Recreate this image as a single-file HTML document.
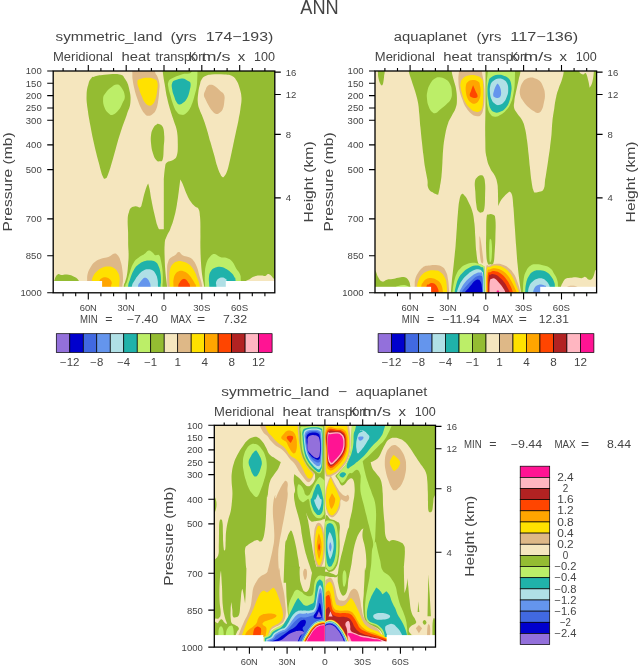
<!DOCTYPE html>
<html><head><meta charset="utf-8"><title>ANN</title>
<style>html,body{margin:0;padding:0;background:#fff}svg{display:block}text{font-family:"Liberation Sans",sans-serif;fill:#444}</style></head><body>
<svg width="638" height="666" viewBox="0 0 638 666">
<rect width="638" height="666" fill="#fff"/>
<clipPath id="cp1"><rect x="53.2" y="71.0" width="221.6" height="221.8"/></clipPath>
<g clip-path="url(#cp1)">
<rect x="50" y="68" width="228" height="228" fill="#F5E6BE"/>
<path fill="#94BC32" d="M162.2,65.0C162.2,65.0 162.2,67.9 162.8,72.1C163.3,76.4 163.7,78.2 164.6,83.8C165.6,89.4 165.6,91.0 166.9,97.0C168.2,103.0 168.7,104.6 170.3,110.1C171.9,115.7 172.5,116.7 174.0,121.4C175.5,126.1 176.0,125.7 176.9,130.8C177.7,136.0 177.8,138.4 177.8,144.0C177.8,149.5 177.9,151.6 176.9,155.3C175.8,158.9 175.4,158.4 173.1,160.0C170.8,161.6 168.7,160.7 166.9,162.4C165.1,164.1 165.7,163.5 165.0,167.5C164.3,171.5 163.8,180.0 163.8,180.0L163.8,229.3L159.1,229.3C159.1,229.3 158.3,228.6 157.2,225.1C156.1,221.6 155.7,219.4 154.4,213.9C153.1,208.3 152.6,206.2 151.6,200.7C150.5,195.1 150.4,193.3 149.7,189.4C148.9,185.5 148.2,183.4 148.2,183.4C148.2,183.4 147.2,184.9 146.3,187.5C145.4,190.2 145.0,191.6 144.0,195.0C143.1,198.5 143.0,199.8 142.2,202.6C141.3,205.3 141.8,206.4 140.3,207.3C138.8,208.1 137.6,206.2 135.6,206.3C133.5,206.5 132.7,206.6 131.2,207.8C129.8,209.1 129.8,209.3 129.0,212.0C128.2,214.6 127.9,214.8 127.7,219.5C127.5,224.2 127.9,226.7 128.1,232.7C128.2,238.6 128.1,240.7 128.2,245.8C128.4,251.0 128.7,251.0 128.6,255.2C128.6,259.5 128.4,260.4 128.1,264.6C127.7,268.9 127.8,270.2 127.1,274.0C126.5,277.9 126.0,278.7 125.2,281.6C124.5,284.5 124.2,282.6 123.7,286.8C123.2,291.1 123.0,300.4 123.0,300.4L280.0,300.0L280.0,60.0L162.2,65.0Z"/>
<path fill="#F5E6BE" d="M204.8,76.3C206.9,75.2 206.9,74.8 211.4,74.4C215.9,74.0 219.8,74.1 224.5,74.4C229.2,74.7 229.3,74.4 232.1,75.9C234.8,77.4 235.0,77.9 236.8,81.0C238.6,84.1 238.9,85.6 240.0,89.4C241.0,93.3 241.3,93.6 241.5,97.9C241.6,102.2 241.2,103.3 240.5,108.3C239.9,113.2 239.7,114.0 238.6,119.5C237.6,125.1 237.1,126.7 235.8,132.7C234.5,138.7 234.3,139.9 233.0,145.9C231.7,151.9 231.5,153.5 230.2,159.0C228.9,164.6 228.6,166.5 227.4,170.3C226.1,174.2 225.7,174.5 224.5,176.0C223.4,177.5 223.4,177.5 222.3,176.9C221.2,176.3 221.0,175.7 219.8,173.1C218.6,170.6 218.3,169.7 217.0,165.6C215.7,161.6 215.7,160.6 214.2,155.3C212.7,149.9 212.1,148.1 210.4,142.1C208.7,136.1 208.4,134.5 206.7,128.9C205.0,123.4 204.5,121.9 202.9,117.7C201.3,113.4 200.9,113.6 199.7,110.1C198.6,106.7 198.2,106.5 197.8,102.6C197.5,98.8 197.7,97.5 198.2,93.2C198.7,88.9 199.2,87.0 200.1,83.8C200.9,80.6 200.9,80.8 202.0,79.1C203.0,77.4 202.7,77.4 204.8,76.3Z"/>
<path fill="#DEB887" d="M210.4,84.7C211.9,84.7 212.1,84.4 214.2,85.7C216.3,87.0 217.6,88.3 219.8,90.4C222.1,92.5 223.2,92.3 224.2,95.1C225.1,97.9 224.5,99.4 224.2,102.6C223.8,105.8 223.8,106.8 222.7,109.2C221.5,111.5 220.8,111.9 219.3,113.0C217.8,114.0 217.7,114.3 216.1,113.9C214.5,113.5 214.0,113.0 212.3,111.1C210.6,109.2 210.1,108.0 208.6,105.4C207.1,102.9 206.8,102.1 205.7,99.8C204.7,97.4 203.9,97.4 203.9,95.1C203.9,92.7 204.9,91.5 205.7,89.4C206.6,87.4 206.5,87.1 207.6,86.1C208.7,85.0 208.9,84.8 210.4,84.7Z"/>
<path fill="#F5E6BE" d="M180.3,179.6C180.3,179.6 181.2,180.7 182.6,183.8C183.9,186.8 184.6,189.3 186.3,193.2C188.0,197.0 188.2,197.7 190.1,200.7C192.0,203.7 192.9,204.4 194.8,206.3C196.7,208.3 197.4,206.6 198.6,209.2C199.8,211.7 199.6,212.3 200.1,217.6C200.5,223.0 200.4,225.8 200.4,232.7C200.5,239.5 200.3,240.9 200.4,247.7C200.6,254.5 200.6,256.3 201.0,262.8C201.4,269.2 201.6,270.4 202.3,275.9C203.0,281.4 203.6,281.3 204.2,286.8C204.8,292.4 204.8,300.4 204.8,300.4L168.5,300.4C168.5,300.4 167.8,292.8 167.1,286.8C166.5,280.8 166.2,280.4 165.6,274.0C165.1,267.7 164.9,265.8 164.7,259.0C164.5,252.2 164.3,249.1 164.7,243.9C165.1,238.8 165.3,239.8 166.6,236.4C167.9,233.0 168.6,233.2 170.3,228.9C172.1,224.6 172.6,223.2 174.1,217.6C175.6,212.1 175.9,210.4 176.9,204.4C178.0,198.5 178.0,196.9 178.8,191.3C179.6,185.6 180.3,179.6 180.3,179.6Z"/>
<path fill="#F5E6BE" d="M247.5,282.5C241.3,281.6 248.4,280.2 250.3,278.7C252.2,277.2 253.4,276.6 255.9,275.9C258.5,275.2 259.4,275.5 261.6,275.5C263.7,275.5 263.8,276.3 265.3,275.9C266.8,275.6 266.9,274.1 268.1,274.0C269.4,274.0 269.7,274.5 271.0,275.5C272.2,276.6 272.3,277.2 273.8,278.7C275.3,280.3 277.5,282.5 277.5,282.5C277.5,282.5 253.7,283.4 247.5,282.5Z"/>
<path fill="#94BC32" d="M94.1,76.7C97.1,75.9 98.7,75.3 104.4,74.8C110.2,74.3 114.8,73.4 119.5,74.4C124.2,75.4 122.9,75.7 125.1,79.1C127.4,82.5 128.1,84.1 129.3,89.4C130.5,94.8 130.9,97.1 130.4,102.6C129.9,108.2 128.9,108.3 127.0,113.9C125.2,119.5 124.5,120.7 122.3,127.1C120.2,133.5 119.8,134.8 117.6,142.1C115.5,149.4 115.1,151.8 112.9,159.0C110.8,166.3 109.9,169.7 108.2,174.1C106.5,178.5 106.7,178.0 105.4,178.4C104.1,178.8 104.1,179.5 102.6,176.0C101.1,172.4 100.7,170.1 98.8,162.8C96.9,155.5 96.0,152.5 94.1,144.0C92.2,135.4 91.8,133.3 90.3,125.2C88.8,117.1 88.4,115.1 87.5,108.3C86.7,101.4 86.4,100.6 86.6,95.1C86.8,89.5 87.4,87.7 88.5,83.8C89.5,80.0 90.0,79.8 91.3,78.2C92.6,76.5 91.1,77.4 94.1,76.7Z"/>
<path fill="#BCEE68" d="M116.7,84.4C119.0,84.4 119.5,84.9 121.4,87.6C123.2,90.2 124.5,92.4 124.8,96.0C125.0,99.7 123.7,100.3 122.3,103.6C120.9,106.8 120.7,107.6 118.6,110.1C116.4,112.7 115.3,114.2 112.9,114.8C110.6,115.5 110.1,114.7 108.2,113.0C106.3,111.2 105.6,110.5 104.4,107.3C103.3,104.1 102.9,102.1 103.1,98.9C103.3,95.6 103.6,95.8 105.4,93.2C107.2,90.6 108.5,89.6 111.0,87.6C113.6,85.6 114.3,84.4 116.7,84.4Z"/>
<path fill="#94BC32" d="M158.6,123.9C160.1,124.4 161.5,124.2 162.8,127.1C164.0,129.9 164.0,131.8 164.3,136.5C164.5,141.2 164.0,142.6 163.7,147.8C163.4,152.9 163.6,156.0 162.8,159.0C161.9,162.1 161.4,161.1 159.9,161.3C158.4,161.5 157.8,161.8 156.2,160.0C154.6,158.2 154.1,157.0 153.0,153.4C151.8,149.8 151.5,148.3 151.1,144.0C150.7,139.7 150.6,138.2 151.1,134.6C151.6,131.0 152.2,130.2 153.3,128.0C154.5,125.8 155.0,125.7 156.2,124.8C157.4,123.9 157.1,123.4 158.6,123.9Z"/>
<path fill="#94BC32" d="M52.8,282.5C52.8,282.5 53.5,282.3 54.1,281.0C54.8,279.7 54.7,278.4 55.6,276.9C56.6,275.3 57.2,274.5 58.5,274.0C59.7,273.6 59.4,274.9 61.3,275.0C63.2,275.1 64.4,274.4 66.9,274.6C69.5,274.8 70.2,275.0 72.6,275.9C74.9,276.9 75.6,277.2 77.3,278.7C78.9,280.2 79.7,282.5 79.7,282.5L52.8,282.5Z"/>
<path fill="#DEB887" d="M131.9,65.0C131.9,65.0 132.1,68.7 132.3,72.1C132.5,75.6 132.1,76.1 132.7,80.0C133.2,84.0 133.5,85.2 134.5,89.4C135.6,93.7 135.9,94.6 137.4,98.9C138.9,103.1 139.4,104.8 141.1,108.3C142.8,111.7 143.3,112.2 144.9,113.9C146.5,115.6 146.4,115.7 148.1,115.8C149.8,115.9 150.6,115.8 152.4,114.3C154.2,112.8 154.8,112.3 156.2,109.2C157.5,106.1 157.6,104.8 158.2,100.7C158.9,96.7 158.9,95.2 159.2,91.3C159.4,87.5 159.8,87.1 159.4,83.8C159.0,80.5 158.4,79.2 157.5,76.7C156.5,74.1 156.0,75.2 155.2,72.5C154.5,69.9 154.3,65.0 154.3,65.0L131.9,65.0Z"/>
<path fill="#FFE100" d="M137.4,81.9C137.6,79.6 137.8,80.0 140.2,79.1C142.5,78.2 144.5,77.8 147.7,77.8C150.9,77.8 152.1,78.0 154.3,79.1C156.5,80.3 156.8,80.1 157.5,82.9C158.1,85.6 157.6,87.5 157.1,91.3C156.6,95.2 156.3,96.8 155.2,99.8C154.2,102.8 153.9,103.2 152.4,104.5C150.9,105.8 150.4,105.9 148.6,105.4C146.9,105.0 146.5,104.8 144.9,102.6C143.3,100.5 143.0,99.0 141.7,96.0C140.4,93.0 140.2,92.7 139.2,89.4C138.3,86.2 137.1,84.3 137.4,81.9Z"/>
<path fill="#BCEE68" d="M168.4,81.9C169.3,79.8 169.2,79.9 172.2,78.2C175.1,76.5 177.3,75.7 181.6,74.4C185.8,73.1 188.4,74.7 191.0,72.5C193.5,70.4 192.8,65.0 192.8,65.0L197.5,65.0C197.5,65.0 197.6,77.0 197.0,83.8C196.3,90.6 196.1,90.0 194.7,95.1C193.4,100.2 192.9,102.3 191.0,106.4C189.0,110.4 188.4,111.0 186.3,113.0C184.1,114.9 183.7,115.1 181.6,114.8C179.4,114.6 178.8,114.4 176.9,112.0C174.9,109.7 174.6,108.3 173.1,104.5C171.6,100.6 171.3,98.9 170.3,95.1C169.2,91.2 168.8,90.6 168.4,87.6C168.0,84.6 167.5,84.1 168.4,81.9Z"/>
<path fill="#20B2AA" d="M172.2,82.9C173.0,80.7 173.6,81.0 175.9,80.0C178.3,79.1 179.7,78.3 182.5,78.5C185.3,78.8 186.3,79.8 188.1,81.0C190.0,82.2 190.3,81.5 190.6,83.8C190.9,86.2 190.2,88.1 189.5,91.3C188.7,94.5 188.6,95.3 187.2,97.9C185.8,100.5 185.2,101.1 183.4,102.6C181.6,104.1 180.9,104.7 179.3,104.5C177.7,104.3 177.5,103.6 176.3,101.7C175.1,99.8 175.0,98.8 174.0,96.0C173.1,93.3 172.6,92.4 172.2,89.4C171.7,86.5 171.3,85.0 172.2,82.9Z"/>
<path fill="#DEB887" d="M86.7,285.3C86.7,285.3 86.8,283.6 87.1,281.0C87.3,278.4 86.8,277.1 87.6,274.0C88.4,271.0 88.7,270.2 90.4,267.5C92.1,264.7 92.6,263.8 95.1,261.8C97.7,259.8 98.7,259.7 101.7,258.6C104.7,257.5 105.5,258.2 108.3,257.1C111.1,256.0 111.8,254.2 113.9,253.7C116.1,253.3 116.2,253.6 117.7,255.2C119.2,256.9 119.5,257.5 120.5,260.9C121.6,264.3 121.9,266.0 122.4,270.3C123.0,274.6 123.0,275.9 123.0,279.7C123.0,283.4 122.5,282.1 122.4,286.8C122.3,291.5 122.4,300.4 122.4,300.4L86.7,300.4L86.7,285.3Z"/>
<path fill="#FFE100" d="M91.4,285.3C91.4,285.3 91.3,283.1 91.8,281.0C92.2,278.9 92.1,278.1 93.3,275.9C94.5,273.7 94.9,273.1 97.0,271.2C99.2,269.3 100.1,268.5 102.7,267.5C105.2,266.4 105.7,266.4 108.3,266.5C110.9,266.6 111.8,266.7 113.9,268.0C116.1,269.3 116.4,269.9 117.7,272.2C119.0,274.4 119.2,274.5 119.6,277.8C119.9,281.1 119.3,281.7 119.2,286.8C119.1,292.0 119.2,300.4 119.2,300.4L91.4,300.4L91.4,285.3Z"/>
<path fill="#FFA500" d="M98.0,285.3C98.0,285.3 98.4,282.6 99.3,281.0C100.1,279.4 100.3,279.0 101.7,278.2C103.1,277.3 103.8,277.1 105.5,277.2C107.2,277.4 107.8,277.5 109.2,278.7C110.7,279.9 111.3,280.7 111.7,282.5C112.1,284.3 111.3,282.8 111.1,286.8C111.0,290.9 111.1,300.4 111.1,300.4L98.0,300.4L98.0,285.3Z"/>
<path fill="#BCEE68" d="M124.3,300.4C124.3,300.4 124.6,291.1 125.2,286.8C125.9,282.6 126.0,284.9 127.1,281.6C128.2,278.2 128.4,276.4 129.9,272.2C131.4,267.9 131.6,266.2 133.7,262.8C135.8,259.3 137.0,259.0 139.3,257.1C141.7,255.2 141.9,255.8 144.0,254.3C146.2,252.8 146.8,251.0 148.7,250.5C150.7,250.1 151.0,251.3 152.5,252.4C154.0,253.5 153.8,254.6 155.3,255.2C156.8,255.9 157.8,253.9 159.1,255.2C160.4,256.5 160.2,257.5 161.0,260.9C161.7,264.3 162.0,266.0 162.5,270.3C162.9,274.6 162.8,275.9 162.8,279.7C162.8,283.4 162.6,282.1 162.5,286.8C162.4,291.5 162.5,300.4 162.5,300.4L124.3,300.4Z"/>
<path fill="#20B2AA" d="M127.1,300.4C127.1,300.4 127.4,291.5 128.1,286.8C128.7,282.1 128.6,283.4 129.9,279.7C131.2,275.9 131.8,273.7 133.7,270.3C135.6,266.9 136.0,266.7 138.4,264.6C140.7,262.6 141.5,262.2 144.0,261.2C146.6,260.3 147.1,260.4 149.7,260.5C152.2,260.6 153.3,260.4 155.3,261.8C157.4,263.2 157.5,263.7 158.7,266.5C159.9,269.3 160.1,270.6 160.6,274.0C161.1,277.5 161.0,278.7 161.0,281.6C161.0,284.5 160.7,282.6 160.6,286.8C160.5,291.1 160.6,300.4 160.6,300.4L127.1,300.4Z"/>
<path fill="#B0E0E6" d="M130.9,300.4C130.9,300.4 131.0,291.3 131.8,286.8C132.7,282.3 133.1,283.3 134.6,280.6C136.1,277.9 136.5,277.2 138.4,275.0C140.3,272.7 141.0,271.9 143.1,270.7C145.2,269.4 145.7,269.4 147.8,269.3C149.9,269.3 150.7,269.2 152.5,270.3C154.3,271.3 154.5,271.9 155.7,274.0C156.9,276.2 157.1,276.8 157.6,279.7C158.1,282.6 157.9,282.1 158.0,286.8C158.0,291.5 158.0,300.4 158.0,300.4L130.9,300.4Z"/>
<path fill="#6495ED" d="M137.5,300.4C137.5,300.4 137.5,290.9 138.0,286.8C138.6,282.8 138.9,284.2 139.9,282.5C140.9,280.8 141.4,280.4 142.5,279.3C143.7,278.2 143.8,277.8 145.0,277.8C146.2,277.8 146.7,278.2 147.8,279.3C148.9,280.4 149.0,280.8 149.7,282.5C150.3,284.2 150.4,282.8 150.6,286.8C150.9,290.9 150.8,300.4 150.8,300.4L137.5,300.4Z"/>
<path fill="#DEB887" d="M168.5,300.4C168.5,300.4 167.8,292.0 167.5,286.8C167.2,281.7 167.2,282.0 167.1,277.8C167.1,273.6 167.0,271.8 167.1,268.4C167.3,265.0 167.2,265.1 167.9,262.8C168.6,260.4 168.7,259.8 170.3,258.1C172.0,256.3 173.1,256.6 175.0,255.2C177.0,253.9 177.1,252.0 178.8,252.0C180.5,252.0 180.4,254.1 182.6,255.2C184.7,256.4 185.9,256.0 188.2,257.1C190.6,258.2 191.0,257.8 192.9,259.9C194.8,262.1 195.2,262.9 196.7,266.5C198.2,270.1 198.2,271.3 199.5,275.9C200.8,280.5 201.5,281.3 202.3,286.8C203.1,292.4 202.9,300.4 202.9,300.4L168.5,300.4Z"/>
<path fill="#FFE100" d="M169.8,300.4C169.8,300.4 169.9,292.4 169.8,286.8C169.7,281.3 169.3,280.1 169.4,275.9C169.5,271.7 169.5,271.2 170.3,268.4C171.2,265.6 171.5,265.3 173.2,263.7C174.9,262.1 175.5,261.7 177.9,261.2C180.2,260.8 180.9,261.0 183.5,261.8C186.1,262.6 186.8,262.7 189.2,264.6C191.5,266.6 192.0,267.3 193.9,270.3C195.7,273.3 195.9,274.0 197.2,277.8C198.6,281.6 199.2,281.7 199.9,286.8C200.6,292.0 200.2,300.4 200.2,300.4L169.8,300.4Z"/>
<path fill="#FFA500" d="M173.5,300.4C173.5,300.4 173.5,291.5 173.5,286.8C173.5,282.1 173.1,282.6 173.5,279.7C174.0,276.8 174.2,276.0 175.4,274.0C176.6,272.1 177.0,271.9 178.8,271.2C180.6,270.6 181.4,270.6 183.5,271.2C185.6,271.9 186.3,272.3 188.2,274.0C190.1,275.7 190.5,276.6 192.0,278.7C193.5,280.9 193.9,281.6 194.8,283.4C195.7,285.3 195.7,283.0 196.1,286.8C196.5,290.7 196.5,300.4 196.5,300.4L173.5,300.4Z"/>
<path fill="#FF4500" d="M177.9,300.4C177.9,300.4 177.8,290.9 178.2,286.8C178.7,282.8 178.8,284.2 179.7,282.5C180.7,280.8 181.3,280.0 182.6,279.3C183.9,278.6 184.1,278.6 185.4,279.3C186.7,280.0 187.1,280.8 188.2,282.5C189.3,284.2 189.6,282.8 190.1,286.8C190.6,290.9 190.5,300.4 190.5,300.4L177.9,300.4Z"/>
<path fill="#BCEE68" d="M205.1,300.4C205.1,300.4 205.2,292.4 205.1,286.8C205.1,281.3 204.5,281.0 204.8,275.9C205.0,270.9 204.9,268.9 206.1,264.6C207.2,260.4 207.9,259.5 209.8,257.1C211.8,254.7 212.2,253.9 214.5,253.9C216.9,253.9 217.4,256.2 220.2,257.1C223.0,258.1 224.0,257.0 226.8,258.1C229.5,259.1 230.3,259.5 232.4,261.8C234.5,264.2 234.5,265.6 236.2,268.4C237.9,271.2 238.9,271.2 239.9,274.0C241.0,276.9 240.6,275.0 240.9,281.0C241.2,287.0 241.2,300.4 241.2,300.4L205.1,300.4Z"/>
<path fill="#20B2AA" d="M209.3,300.4C209.3,300.4 209.4,292.0 209.3,286.8C209.2,281.7 208.6,281.3 208.9,277.8C209.2,274.3 209.3,273.6 210.8,271.2C212.3,268.9 213.1,268.4 215.5,267.5C217.8,266.5 218.6,266.5 221.1,266.9C223.7,267.3 224.4,267.9 226.8,269.3C229.1,270.7 229.8,271.4 231.5,273.1C233.2,274.8 233.3,275.1 234.3,276.9C235.2,278.7 235.2,275.7 235.6,281.0C236.0,286.3 236.0,300.4 236.0,300.4L209.3,300.4Z"/>
<path fill="#B0E0E6" d="M216.4,300.4C216.4,300.4 216.5,290.9 216.4,286.8C216.3,282.8 215.6,284.3 216.0,282.5C216.5,280.7 216.9,279.9 218.3,278.7C219.7,277.6 220.4,277.4 222.1,277.4C223.7,277.4 224.4,277.8 225.5,278.7C226.5,279.7 226.2,276.6 226.6,281.6C226.9,286.5 227.0,300.4 227.0,300.4L216.4,300.4Z"/>
<rect x="50" y="281" width="52.1" height="15" fill="#fff"/>
<rect x="225.8" y="281" width="52" height="15" fill="#fff"/>
<rect x="50" y="286.8" width="228" height="10" fill="#fff"/>
</g>
<rect x="53.2" y="71.0" width="221.6" height="221.8" fill="none" stroke="#000" stroke-width="1.3"/>
<path d="M63.1,71.0v-2.9M63.1,292.8v3.5M75.7,71.0v-2.9M75.7,292.8v3.5M88.3,71.0v-6.0M88.3,292.8v6.6M100.9,71.0v-2.9M100.9,292.8v3.5M113.6,71.0v-2.9M113.6,292.8v3.5M126.2,71.0v-6.0M126.2,292.8v6.6M138.8,71.0v-2.9M138.8,292.8v3.5M151.4,71.0v-2.9M151.4,292.8v3.5M164.0,71.0v-6.0M164.0,292.8v6.6M176.6,71.0v-2.9M176.6,292.8v3.5M189.2,71.0v-2.9M189.2,292.8v3.5M201.8,71.0v-6.0M201.8,292.8v6.6M214.4,71.0v-2.9M214.4,292.8v3.5M227.1,71.0v-2.9M227.1,292.8v3.5M239.7,71.0v-6.0M239.7,292.8v6.6M252.3,71.0v-2.9M252.3,292.8v3.5M264.9,71.0v-2.9M264.9,292.8v3.5M53.2,71.0h-6M53.2,83.3h-6M53.2,95.6h-6M53.2,108.0h-6M53.2,120.3h-6M53.2,144.9h-6M53.2,169.6h-6M53.2,218.9h-6M53.2,255.8h-6M53.2,292.8h-6M274.8,72.1h6M274.8,94.5h6M274.8,134.4h6M274.8,197.9h6" stroke="#000" stroke-width="1.1" fill="none"/>
<text x="25.8" y="74.4" font-size="9.6" text-anchor="start" textLength="15.9" lengthAdjust="spacingAndGlyphs">100</text>
<text x="25.8" y="86.7" font-size="9.6" text-anchor="start" textLength="15.9" lengthAdjust="spacingAndGlyphs">150</text>
<text x="25.8" y="99.0" font-size="9.6" text-anchor="start" textLength="15.9" lengthAdjust="spacingAndGlyphs">200</text>
<text x="25.8" y="111.4" font-size="9.6" text-anchor="start" textLength="15.9" lengthAdjust="spacingAndGlyphs">250</text>
<text x="25.8" y="123.7" font-size="9.6" text-anchor="start" textLength="15.9" lengthAdjust="spacingAndGlyphs">300</text>
<text x="25.8" y="148.3" font-size="9.6" text-anchor="start" textLength="15.9" lengthAdjust="spacingAndGlyphs">400</text>
<text x="25.8" y="173.0" font-size="9.6" text-anchor="start" textLength="15.9" lengthAdjust="spacingAndGlyphs">500</text>
<text x="25.8" y="222.3" font-size="9.6" text-anchor="start" textLength="15.9" lengthAdjust="spacingAndGlyphs">700</text>
<text x="25.8" y="259.2" font-size="9.6" text-anchor="start" textLength="15.9" lengthAdjust="spacingAndGlyphs">850</text>
<text x="20.5" y="296.2" font-size="9.6" text-anchor="start" textLength="21.2" lengthAdjust="spacingAndGlyphs">1000</text>
<text x="285.8" y="75.5" font-size="9.6" text-anchor="start" textLength="10.6" lengthAdjust="spacingAndGlyphs">16</text>
<text x="285.8" y="97.9" font-size="9.6" text-anchor="start" textLength="10.6" lengthAdjust="spacingAndGlyphs">12</text>
<text x="285.8" y="137.8" font-size="9.6" text-anchor="start" textLength="5.3" lengthAdjust="spacingAndGlyphs">8</text>
<text x="285.8" y="201.3" font-size="9.6" text-anchor="start" textLength="5.3" lengthAdjust="spacingAndGlyphs">4</text>
<text x="79.7" y="310.5" font-size="9.4" text-anchor="start" textLength="17.2" lengthAdjust="spacingAndGlyphs">60N</text>
<text x="117.5" y="310.5" font-size="9.4" text-anchor="start" textLength="17.2" lengthAdjust="spacingAndGlyphs">30N</text>
<text x="161.1" y="310.5" font-size="9.4" text-anchor="start" textLength="5.8" lengthAdjust="spacingAndGlyphs">0</text>
<text x="193.2" y="310.5" font-size="9.4" text-anchor="start" textLength="17.2" lengthAdjust="spacingAndGlyphs">30S</text>
<text x="231.0" y="310.5" font-size="9.4" text-anchor="start" textLength="17.2" lengthAdjust="spacingAndGlyphs">60S</text>
<text x="11.7" y="181.9" font-size="12.5" text-anchor="middle" transform="rotate(-90 11.7 181.9)" textLength="99.0" lengthAdjust="spacingAndGlyphs">Pressure (mb)</text>
<text x="313.3" y="181.9" font-size="12.5" text-anchor="middle" transform="rotate(-90 313.3 181.9)" textLength="81.0" lengthAdjust="spacingAndGlyphs">Height (km)</text>
<text y="41.3" font-size="12.5"><tspan x="55.5" textLength="106.9" lengthAdjust="spacingAndGlyphs">symmetric_land</tspan> <tspan x="170.4" textLength="26.3" lengthAdjust="spacingAndGlyphs">(yrs</tspan> <tspan x="205.7" textLength="67.7" lengthAdjust="spacingAndGlyphs">174−193)</tspan></text>
<text y="61.4" font-size="12.3"><tspan x="53.0" textLength="60" lengthAdjust="spacingAndGlyphs">Meridional</tspan> <tspan x="121.5" textLength="28.8" lengthAdjust="spacingAndGlyphs">heat</tspan> <tspan x="155.4" textLength="50.6" lengthAdjust="spacingAndGlyphs">transport</tspan></text>
<text y="61.4" font-size="12.3"><tspan x="188.9" textLength="7.5" lengthAdjust="spacingAndGlyphs">K</tspan> <tspan x="201.4" textLength="29" lengthAdjust="spacingAndGlyphs">m/s</tspan> <tspan x="237.8" textLength="7.5" lengthAdjust="spacingAndGlyphs">x</tspan> <tspan x="254.0" textLength="21" lengthAdjust="spacingAndGlyphs">100</tspan></text>
<text x="80.0" y="323.1" font-size="11.2" text-anchor="start" textLength="17.6" lengthAdjust="spacingAndGlyphs">MIN</text>
<text x="105.2" y="323.1" font-size="11.2" text-anchor="start" textLength="7.3" lengthAdjust="spacingAndGlyphs">=</text>
<text x="126.7" y="323.1" font-size="11.2" text-anchor="start" textLength="31.5" lengthAdjust="spacingAndGlyphs">−7.40</text>
<text x="170.4" y="323.1" font-size="11.2" text-anchor="start" textLength="21.2" lengthAdjust="spacingAndGlyphs">MAX</text>
<text x="196.9" y="323.1" font-size="11.2" text-anchor="start" textLength="8.1" lengthAdjust="spacingAndGlyphs">=</text>
<text x="223.0" y="323.1" font-size="11.2" text-anchor="start" textLength="24.0" lengthAdjust="spacingAndGlyphs">7.32</text>
<rect x="56.30" y="333.7" width="13.49" height="18.8" fill="#9370DB" stroke="#000" stroke-width="0.7"/>
<rect x="69.79" y="333.7" width="13.49" height="18.8" fill="#0000CD" stroke="#000" stroke-width="0.7"/>
<rect x="83.28" y="333.7" width="13.49" height="18.8" fill="#4169E1" stroke="#000" stroke-width="0.7"/>
<rect x="96.76" y="333.7" width="13.49" height="18.8" fill="#6495ED" stroke="#000" stroke-width="0.7"/>
<rect x="110.25" y="333.7" width="13.49" height="18.8" fill="#B0E0E6" stroke="#000" stroke-width="0.7"/>
<rect x="123.74" y="333.7" width="13.49" height="18.8" fill="#20B2AA" stroke="#000" stroke-width="0.7"/>
<rect x="137.23" y="333.7" width="13.49" height="18.8" fill="#BCEE68" stroke="#000" stroke-width="0.7"/>
<rect x="150.71" y="333.7" width="13.49" height="18.8" fill="#94BC32" stroke="#000" stroke-width="0.7"/>
<rect x="164.20" y="333.7" width="13.49" height="18.8" fill="#F5E6BE" stroke="#000" stroke-width="0.7"/>
<rect x="177.69" y="333.7" width="13.49" height="18.8" fill="#DEB887" stroke="#000" stroke-width="0.7"/>
<rect x="191.18" y="333.7" width="13.49" height="18.8" fill="#FFE100" stroke="#000" stroke-width="0.7"/>
<rect x="204.66" y="333.7" width="13.49" height="18.8" fill="#FFA500" stroke="#000" stroke-width="0.7"/>
<rect x="218.15" y="333.7" width="13.49" height="18.8" fill="#FF4500" stroke="#000" stroke-width="0.7"/>
<rect x="231.64" y="333.7" width="13.49" height="18.8" fill="#B22222" stroke="#000" stroke-width="0.7"/>
<rect x="245.12" y="333.7" width="13.49" height="18.8" fill="#FFB6C1" stroke="#000" stroke-width="0.7"/>
<rect x="258.61" y="333.7" width="13.49" height="18.8" fill="#FF1493" stroke="#000" stroke-width="0.7"/>
<text x="60.0" y="366.3" font-size="10.2" text-anchor="start" textLength="19.5" lengthAdjust="spacingAndGlyphs">−12</text>
<text x="90.3" y="366.3" font-size="10.2" text-anchor="start" textLength="13.0" lengthAdjust="spacingAndGlyphs">−8</text>
<text x="117.2" y="366.3" font-size="10.2" text-anchor="start" textLength="13.0" lengthAdjust="spacingAndGlyphs">−4</text>
<text x="144.2" y="366.3" font-size="10.2" text-anchor="start" textLength="13.0" lengthAdjust="spacingAndGlyphs">−1</text>
<text x="174.4" y="366.3" font-size="10.2" text-anchor="start" textLength="6.5" lengthAdjust="spacingAndGlyphs">1</text>
<text x="201.4" y="366.3" font-size="10.2" text-anchor="start" textLength="6.5" lengthAdjust="spacingAndGlyphs">4</text>
<text x="228.4" y="366.3" font-size="10.2" text-anchor="start" textLength="6.5" lengthAdjust="spacingAndGlyphs">8</text>
<text x="252.1" y="366.3" font-size="10.2" text-anchor="start" textLength="13.0" lengthAdjust="spacingAndGlyphs">12</text>
<clipPath id="cp2"><rect x="375.0" y="71.0" width="221.6" height="221.8"/></clipPath>
<g clip-path="url(#cp2)">
<rect x="370" y="68" width="230" height="228" fill="#F5E6BE"/>
<path fill="#94BC32" d="M485.5,60.0C485.5,60.0 485.5,84.4 485.5,102.6C485.4,120.8 485.0,127.8 485.3,140.2C485.5,152.6 485.4,150.7 486.6,157.2C487.7,163.6 488.4,164.2 490.3,168.4C492.3,172.7 493.5,172.5 495.0,176.0C496.6,179.4 496.7,180.3 497.3,183.5C497.9,186.7 497.7,186.5 497.9,190.0C498.0,193.4 498.0,195.1 498.1,198.8C498.1,202.5 498.2,206.3 498.2,206.3C498.2,206.3 499.1,203.3 500.7,200.7C502.3,198.1 503.5,197.1 505.4,195.0C507.3,193.0 509.2,191.7 509.2,191.7C509.2,191.7 511.0,191.3 512.0,195.0C513.0,198.8 512.8,200.9 513.5,208.2C514.1,215.5 514.2,218.5 514.8,227.0C515.4,235.6 515.5,237.3 516.1,245.8C516.8,254.4 516.8,256.5 517.6,264.6C518.4,272.8 518.7,275.1 519.5,281.6C520.3,288.0 520.6,288.6 521.0,292.8C521.4,297.1 521.4,300.4 521.4,300.4L602.0,300.0L602.0,60.0L485.5,60.0Z"/>
<path fill="#F5E6BE" d="M521.0,65.0C521.0,65.0 521.0,68.7 520.4,72.1C519.9,75.6 519.5,75.7 518.6,80.0C517.6,84.4 517.1,86.6 516.1,91.3C515.2,96.0 514.8,96.9 514.4,100.7C514.0,104.6 513.5,105.3 514.2,108.3C515.0,111.2 515.8,111.1 517.6,113.9C519.5,116.7 520.6,117.1 522.3,120.5C524.0,123.9 524.1,124.5 525.1,128.9C526.2,133.4 526.2,134.7 527.0,140.2C527.8,145.8 527.9,147.4 528.5,153.4C529.2,159.4 529.2,160.5 529.8,166.6C530.5,172.6 530.6,174.7 531.3,179.9C532.1,185.1 532.3,186.4 533.0,189.3C533.8,192.2 534.5,192.7 534.5,192.7C534.5,192.7 538.0,192.6 540.2,191.6C542.3,190.6 542.8,191.0 543.9,188.4C545.1,185.7 544.6,182.7 545.1,179.9C545.5,177.1 545.1,180.3 545.8,176.0C546.5,171.6 547.1,167.3 548.1,160.9C549.0,154.5 549.2,153.7 550.0,147.8C550.7,141.8 550.9,140.6 551.5,134.6C552.0,128.6 551.8,127.4 552.4,121.4C553.1,115.4 553.4,113.8 554.3,108.3C555.1,102.7 555.1,101.7 556.2,97.0C557.2,92.3 557.7,91.4 559.0,87.6C560.3,83.7 560.7,83.6 561.8,80.0C562.9,76.5 563.2,75.6 563.7,72.1C564.2,68.7 564.1,65.0 564.1,65.0L521.0,65.0Z"/>
<path fill="#DEB887" d="M529.3,77.8C531.2,77.6 532.1,77.4 534.5,78.2C536.9,78.9 537.9,79.1 539.8,81.0C541.7,82.9 541.9,83.6 543.0,86.6C544.2,89.6 544.7,90.5 544.9,94.2C545.1,97.8 544.7,99.0 543.9,102.6C543.2,106.2 543.1,107.8 541.7,110.1C540.3,112.5 539.8,112.7 537.9,113.0C536.1,113.2 535.7,112.4 533.6,111.1C531.5,109.8 530.8,109.5 528.5,107.3C526.3,105.2 525.6,104.5 523.6,101.7C521.7,98.9 520.8,98.3 520.1,95.1C519.3,91.9 519.8,90.6 520.4,87.6C521.1,84.6 521.6,83.9 522.9,81.9C524.2,80.0 524.6,80.0 526.1,79.1C527.5,78.2 527.4,78.0 529.3,77.8Z"/>
<path fill="#F5E6BE" d="M579.3,68.8C579.3,68.8 578.8,71.2 579.7,72.5C580.5,73.8 581.7,74.2 583.1,74.4C584.5,74.6 584.7,72.0 585.9,73.3C587.0,74.6 587.3,76.8 588.1,80.0C589.0,83.3 589.6,87.6 589.6,87.6C589.6,87.6 591.1,86.0 591.9,83.4C592.8,80.9 592.9,79.6 593.4,76.3C593.9,73.0 594.0,68.8 594.0,68.8L579.3,68.8Z"/>
<path fill="#F5E6BE" d="M559.9,291.0C559.9,291.0 560.2,288.8 560.9,286.8C561.5,284.9 561.7,284.3 562.8,282.5C563.8,280.7 563.9,279.8 565.6,278.7C567.3,277.7 567.9,278.1 570.3,277.8C572.6,277.5 573.4,277.1 575.9,277.2C578.5,277.3 579.4,278.3 581.6,278.2C583.7,278.1 583.6,276.5 585.3,276.9C587.0,277.2 587.4,279.5 589.1,279.7C590.8,279.9 591.5,279.9 592.8,277.8C594.2,275.7 595.1,270.3 595.1,270.3L600.4,270.3L600.4,291.0L559.9,291.0Z"/>
<path fill="#DEB887" d="M565.6,288.1C565.6,288.1 566.9,286.8 568.4,286.3C569.9,285.7 570.4,285.7 572.2,285.7C573.9,285.7 574.4,285.7 575.9,286.3C577.4,286.8 578.7,288.1 578.7,288.1L565.6,288.1Z"/>
<path fill="#94BC32" d="M377.5,65.0C377.5,65.0 377.7,69.2 377.9,72.1C378.1,75.1 377.9,75.5 378.5,78.2C379.0,80.8 379.6,82.2 380.3,83.8C381.1,85.4 381.2,85.5 381.8,85.3C382.5,85.1 382.7,84.9 383.2,82.9C383.7,80.8 383.8,78.7 384.1,76.3C384.4,73.8 384.5,74.7 384.7,72.1C384.8,69.6 384.9,65.0 384.9,65.0L377.5,65.0Z"/>
<path fill="#94BC32" d="M407.6,65.0C407.6,65.0 408.1,68.7 408.9,72.1C409.8,75.6 410.0,75.7 411.4,80.0C412.8,84.4 413.6,86.2 415.1,91.3C416.6,96.5 417.0,97.5 418.0,102.6C418.9,107.7 418.7,108.3 419.3,113.9C419.8,119.5 419.8,121.1 420.4,127.1C421.0,133.0 421.1,134.2 421.7,140.2C422.4,146.2 422.5,147.4 423.2,153.4C424.0,159.4 424.0,160.6 424.9,166.6C425.9,172.5 426.6,175.0 427.4,179.7C428.1,184.5 427.0,184.6 428.1,187.4C429.2,190.3 429.8,190.4 432.1,192.1C434.3,193.8 438.1,195.0 438.1,195.0C438.1,195.0 439.0,191.8 439.8,187.4C440.5,183.1 440.9,181.6 441.5,176.0C442.1,170.4 442.0,169.2 442.4,162.8C442.8,156.4 442.7,154.2 443.3,147.8C444.0,141.3 444.2,140.1 445.2,134.6C446.3,129.0 446.6,127.6 448.1,123.3C449.5,119.0 450.1,119.2 451.8,115.8C453.5,112.4 454.4,111.7 455.6,108.3C456.7,104.8 456.8,105.0 456.9,100.7C457.0,96.5 456.9,94.2 456.1,89.4C455.4,84.7 454.7,84.0 453.7,80.0C452.7,76.1 452.4,75.6 451.8,72.1C451.3,68.7 451.2,65.0 451.2,65.0L407.6,65.0Z"/>
<path fill="#BCEE68" d="M439.6,77.2C441.9,77.4 442.9,77.6 445.2,79.1C447.6,80.6 448.4,81.0 449.9,83.8C451.4,86.6 451.6,87.9 451.8,91.3C452.0,94.8 452.2,95.9 450.9,98.9C449.6,101.8 448.5,102.1 446.2,104.5C443.8,106.8 442.9,107.3 440.5,109.2C438.2,111.1 437.8,112.3 435.8,113.0C433.9,113.6 433.7,113.5 432.1,112.0C430.4,110.5 429.8,109.4 428.7,106.4C427.5,103.4 427.3,102.3 427.0,98.9C426.7,95.4 426.6,94.8 427.4,91.3C428.1,87.9 428.5,86.7 430.2,83.8C431.9,80.9 432.7,80.0 434.9,78.5C437.0,77.0 437.2,77.1 439.6,77.2Z"/>
<path fill="#DEB887" d="M459.9,65.0C459.9,65.0 459.1,70.0 458.8,73.5C458.4,76.9 458.3,76.4 458.4,80.0C458.5,83.7 458.5,85.2 459.3,89.4C460.2,93.7 460.7,94.8 462.2,98.9C463.7,102.9 463.8,103.9 465.9,107.3C468.1,110.7 469.0,111.9 471.6,113.9C474.1,115.9 475.1,115.9 477.2,116.2C479.3,116.4 479.6,116.4 481.0,114.8C482.3,113.3 482.5,112.4 483.2,109.2C484.0,106.0 484.1,105.2 484.4,100.7C484.6,96.2 484.6,94.2 484.4,89.4C484.1,84.7 483.9,83.7 483.4,80.0C482.9,76.4 482.6,76.9 482.1,73.5C481.6,70.0 481.3,65.0 481.3,65.0L459.9,65.0Z"/>
<path fill="#FFE100" d="M460.7,82.9C461.2,80.7 461.0,79.9 463.1,78.2C465.1,76.5 466.5,75.9 469.7,75.3C472.9,74.8 474.4,75.1 477.2,75.9C480.0,76.8 480.5,76.9 481.9,79.1C483.3,81.3 482.9,81.6 483.2,85.7C483.5,89.7 483.4,92.3 483.2,97.0C483.1,101.7 483.2,103.2 482.5,106.4C481.7,109.6 481.6,109.9 480.0,111.1C478.4,112.3 477.7,112.4 475.3,111.6C473.0,110.9 472.0,110.1 469.7,107.9C467.3,105.6 466.7,104.8 465.0,101.7C463.3,98.6 463.1,97.4 462.2,94.2C461.2,90.9 461.0,90.1 460.7,87.6C460.3,85.0 460.1,85.0 460.7,82.9Z"/>
<path fill="#FFA500" d="M465.9,85.7C466.3,83.3 466.3,83.2 467.8,81.9C469.3,80.6 470.2,80.1 472.5,80.0C474.9,80.0 476.4,80.3 478.1,81.6C479.9,82.8 479.5,83.0 480.0,85.7C480.6,88.3 480.8,90.0 480.6,93.2C480.4,96.4 480.3,97.4 479.1,99.8C477.9,102.1 477.2,103.0 475.3,103.6C473.4,104.1 472.4,103.5 470.6,102.2C468.8,101.0 468.5,100.2 467.4,97.9C466.4,95.6 466.3,95.0 465.9,92.3C465.6,89.5 465.5,88.0 465.9,85.7Z"/>
<path fill="#FF4500" d="M473.1,85.3C473.1,85.3 474.3,88.0 475.3,90.4C476.3,92.8 477.6,94.3 477.6,96.0C477.6,97.7 476.7,97.6 475.3,97.9C474.0,98.2 472.8,98.0 471.6,97.3C470.3,96.7 469.8,96.7 469.7,95.1C469.6,93.5 470.4,92.6 471.2,90.4C472.0,88.2 473.1,85.3 473.1,85.3Z"/>
<path fill="#BCEE68" d="M488.5,65.0C488.5,65.0 488.0,70.1 487.5,74.4C487.1,78.7 486.8,79.1 486.6,83.8C486.4,88.5 486.4,90.0 486.6,95.1C486.8,100.2 486.7,102.1 487.5,106.4C488.4,110.7 488.6,111.5 490.3,113.9C492.1,116.3 492.7,116.5 495.0,116.7C497.4,116.9 498.1,116.3 500.7,114.8C503.3,113.3 504.0,112.9 506.3,110.1C508.7,107.4 509.4,106.5 511.0,102.6C512.7,98.8 512.6,97.9 513.5,93.2C514.3,88.5 514.5,88.3 514.8,81.9C515.1,75.5 515.0,65.0 515.0,65.0L488.5,65.0Z"/>
<path fill="#20B2AA" d="M488.5,81.9C489.3,78.7 489.1,78.8 491.3,77.2C493.4,75.6 494.9,75.1 497.9,74.8C500.9,74.5 501.9,74.9 504.4,75.9C507.0,76.9 507.6,76.9 509.2,79.1C510.7,81.3 511.0,82.5 511.4,85.7C511.8,88.9 511.5,89.6 511.0,93.2C510.5,96.8 510.4,98.3 509.2,101.7C507.9,105.1 507.5,105.9 505.4,108.3C503.3,110.6 502.3,111.2 499.7,112.0C497.2,112.9 496.2,112.9 494.1,112.0C492.0,111.2 491.6,110.8 490.3,108.3C489.1,105.7 489.1,104.6 488.5,100.7C487.8,96.9 487.5,95.6 487.5,91.3C487.5,87.1 487.6,85.1 488.5,81.9Z"/>
<path fill="#B0E0E6" d="M490.3,85.7C491.1,82.9 491.2,82.6 493.2,81.0C495.1,79.4 496.3,78.8 498.8,78.5C501.3,78.3 502.2,78.8 504.1,80.0C506.0,81.2 506.3,81.5 507.3,83.8C508.2,86.2 508.3,87.4 508.2,90.4C508.1,93.4 507.8,94.2 506.7,97.0C505.6,99.8 505.3,100.8 503.5,102.6C501.7,104.5 500.8,104.8 498.8,105.1C496.8,105.3 496.3,104.8 494.7,103.6C493.0,102.4 492.7,102.1 491.7,99.8C490.6,97.4 490.3,96.4 490.0,93.2C489.7,90.0 489.6,88.5 490.3,85.7Z"/>
<path fill="#6495ED" d="M497.5,83.4C497.5,83.4 498.9,84.6 499.7,86.6C500.6,88.6 500.9,90.0 501.1,92.3C501.2,94.5 501.0,95.3 500.3,96.6C499.6,97.9 499.1,97.7 497.9,97.9C496.6,98.1 495.7,98.0 494.7,97.3C493.6,96.7 493.3,96.7 493.2,95.1C493.0,93.5 493.5,92.5 494.1,90.4C494.7,88.3 495.2,87.3 496.0,85.7C496.8,84.1 497.5,83.4 497.5,83.4Z"/>
<path fill="#94BC32" d="M481.0,175.3C482.5,175.3 482.8,175.3 483.8,177.2C484.7,179.1 484.8,179.7 485.1,183.8C485.4,187.8 485.3,189.5 485.1,195.0C484.9,200.6 485.1,204.3 484.4,208.2C483.6,212.1 483.3,211.7 481.9,212.3C480.5,213.0 479.4,212.8 478.1,211.0C476.9,209.2 476.9,208.9 476.3,204.4C475.6,200.0 475.6,196.4 475.3,191.3C475.0,186.2 474.5,185.1 474.9,181.9C475.4,178.7 475.8,178.7 477.2,177.2C478.6,175.7 479.5,175.3 481.0,175.3Z"/>
<path fill="#94BC32" d="M373.8,300.4L375.3,270.3C375.3,270.3 375.5,270.4 376.2,272.2C376.9,273.9 377.1,275.7 378.5,277.8C379.8,279.9 380.3,281.1 382.2,281.6C384.1,282.0 384.6,280.2 386.9,279.7C389.3,279.1 390.0,279.5 392.6,279.1C395.1,278.7 395.4,278.2 398.2,277.8C401.0,277.4 402.4,276.6 404.8,277.2C407.1,277.9 407.3,278.4 408.6,280.6C409.8,282.8 409.7,282.3 410.4,286.8C411.2,291.3 411.8,300.4 411.8,300.4L373.8,300.4Z"/>
<path fill="#BCEE68" d="M394.4,288.1C394.4,288.1 395.6,286.5 398.2,285.9C400.8,285.2 403.1,284.8 405.7,285.3C408.4,285.8 409.9,288.1 409.9,288.1L394.4,288.1Z"/>
<path fill="#DEB887" d="M413.3,300.4C413.3,300.4 414.1,291.5 414.6,286.8C415.0,282.1 414.4,282.8 415.1,279.7C415.9,276.6 416.2,275.9 418.0,273.1C419.7,270.3 420.3,269.2 422.7,267.5C425.0,265.7 425.3,266.1 428.3,265.6C431.3,265.0 432.6,264.7 435.8,265.0C439.0,265.3 440.1,265.3 442.4,266.9C444.8,268.5 444.9,269.3 446.2,272.2C447.5,275.1 447.4,275.8 448.1,279.7C448.7,283.5 448.7,284.4 449.0,289.1C449.3,293.8 449.4,300.4 449.4,300.4L413.3,300.4Z"/>
<path fill="#FFE100" d="M416.1,300.4C416.1,300.4 416.5,291.3 417.0,286.8C417.6,282.3 417.5,283.3 418.5,280.6C419.6,277.9 419.7,277.1 421.7,275.0C423.7,272.8 424.6,272.3 427.4,271.2C430.1,270.1 431.0,270.1 433.9,270.3C436.9,270.5 438.0,270.4 440.5,272.2C443.0,273.9 443.4,274.8 444.9,277.8C446.3,280.8 446.2,280.2 446.7,285.3C447.3,290.5 447.3,300.4 447.3,300.4L416.1,300.4Z"/>
<path fill="#FFA500" d="M419.8,300.4C419.8,300.4 420.4,290.9 421.2,286.8C421.9,282.8 421.8,284.3 423.0,282.5C424.2,280.7 424.4,280.1 426.4,279.1C428.5,278.1 429.5,277.8 432.1,278.2C434.6,278.5 435.6,279.0 437.7,280.6C439.8,282.2 440.3,282.5 441.5,285.3C442.7,288.1 442.5,289.4 443.0,292.8C443.4,296.3 443.3,300.4 443.3,300.4L419.8,300.4Z"/>
<path fill="#FF4500" d="M424.5,300.4C424.5,300.4 425.5,290.5 426.4,286.8C427.4,283.2 427.4,285.2 428.7,284.4C430.0,283.5 430.4,282.9 432.1,283.1C433.7,283.2 434.5,283.6 435.8,284.9C437.2,286.3 437.4,287.3 438.1,289.1C438.7,290.9 438.5,290.3 438.6,292.8C438.8,295.4 438.8,300.4 438.8,300.4L424.5,300.4Z"/>
<path fill="#94BC32" d="M450.5,300.4C450.5,300.4 450.6,297.1 450.9,292.8C451.2,288.6 451.2,288.0 451.8,281.6C452.5,275.1 452.8,272.8 453.7,264.6C454.5,256.5 454.8,254.4 455.6,245.8C456.3,237.3 456.3,234.7 456.9,227.0C457.4,219.3 457.5,218.0 458.0,212.0C458.6,206.0 458.5,204.7 459.3,200.7C460.2,196.6 460.5,195.2 461.8,194.1C463.1,193.0 463.4,194.1 465.0,196.0C466.6,197.9 467.0,198.9 468.7,202.6C470.4,206.2 471.2,207.3 472.5,212.0C473.8,216.7 473.7,217.7 474.4,223.3C475.0,228.8 474.9,230.0 475.3,236.4C475.7,242.8 475.6,245.5 476.3,251.5C476.9,257.5 477.1,259.8 478.1,262.8C479.2,265.7 479.6,263.8 481.0,264.6C482.4,265.5 484.4,266.5 484.4,266.5L485.3,300.4L450.5,300.4Z"/>
<path fill="#BCEE68" d="M452.0,300.4C452.0,300.4 452.0,296.7 452.4,292.8C452.8,289.0 452.8,287.7 453.7,283.4C454.6,279.2 455.0,277.5 456.5,274.0C458.0,270.6 458.1,270.5 460.3,268.4C462.4,266.3 463.1,265.9 465.9,264.6C468.7,263.4 469.7,263.0 472.5,262.8C475.3,262.5 475.8,263.1 478.1,263.7C480.5,264.3 481.3,264.1 482.8,265.6C484.3,267.1 484.2,264.1 484.7,270.3C485.2,276.5 485.0,286.0 485.1,292.8C485.2,299.7 485.3,300.4 485.3,300.4L452.0,300.4Z"/>
<path fill="#20B2AA" d="M454.3,300.4C454.3,300.4 454.2,296.3 454.6,292.8C455.1,289.4 455.2,288.7 456.1,285.3C457.1,281.9 457.2,280.8 458.8,277.8C460.4,274.8 460.8,274.4 463.1,272.2C465.4,269.9 466.0,269.5 468.7,268.0C471.5,266.5 472.5,265.8 475.3,265.6C478.1,265.3 479.0,265.6 481.0,266.9C482.9,268.2 483.0,265.3 483.8,271.2C484.6,277.1 484.2,286.2 484.4,292.8C484.5,299.5 484.5,300.4 484.5,300.4L454.3,300.4Z"/>
<path fill="#B0E0E6" d="M456.5,300.4C456.5,300.4 456.2,296.3 456.9,292.8C457.5,289.4 458.1,288.3 459.3,285.3C460.6,282.3 460.8,282.0 462.5,279.7C464.2,277.3 464.6,277.0 466.9,275.0C469.1,273.0 469.9,272.1 472.5,270.8C475.1,269.6 476.0,269.3 478.1,269.3C480.3,269.4 480.7,269.7 481.9,271.2C483.1,272.7 482.9,271.0 483.4,275.9C483.9,280.8 483.8,287.3 484.0,292.8C484.1,298.4 484.2,300.4 484.2,300.4L456.5,300.4Z"/>
<path fill="#6495ED" d="M458.8,300.4C458.8,300.4 458.7,295.8 459.3,292.8C460.0,289.9 460.5,289.6 461.8,287.2C463.1,284.9 463.2,284.6 465.0,282.5C466.8,280.4 467.3,279.8 469.7,277.8C472.0,275.8 473.0,274.9 475.3,273.7C477.7,272.5 478.4,272.2 480.0,272.5C481.6,272.8 481.7,270.4 482.5,275.0C483.2,279.6 483.0,287.1 483.2,292.8C483.4,298.6 483.4,300.4 483.4,300.4L458.8,300.4Z"/>
<path fill="#4169E1" d="M461.2,300.4C461.2,300.4 461.1,295.5 461.8,292.8C462.4,290.2 462.7,290.6 464.0,288.7C465.4,286.8 465.9,286.4 467.8,284.4C469.7,282.3 470.4,281.5 472.5,279.7C474.6,277.8 475.3,277.1 477.2,276.3C479.1,275.4 479.8,275.4 481.0,275.9C482.2,276.5 482.0,274.9 482.5,278.7C482.9,282.6 482.7,287.9 482.8,292.8C483.0,297.8 483.0,300.4 483.0,300.4L461.2,300.4Z"/>
<path fill="#0000CD" d="M464.0,300.4C464.0,300.4 464.1,295.4 465.0,292.8C465.8,290.3 466.3,291.0 467.8,289.1C469.3,287.2 469.9,286.3 471.6,284.4C473.3,282.5 473.7,281.7 475.3,280.6C476.9,279.6 477.4,279.3 478.7,279.7C480.0,280.1 480.2,280.8 481.0,282.5C481.7,284.2 481.6,284.9 481.9,287.2C482.2,289.6 482.2,289.9 482.3,292.8C482.4,295.8 482.5,300.4 482.5,300.4L464.0,300.4Z"/>
<path fill="#DEB887" d="M479.6,236.4C480.0,236.0 480.3,238.2 481.0,242.1C481.6,245.9 482.0,248.9 482.5,253.3C483.0,257.8 483.5,259.8 483.2,261.8C483.0,263.9 482.1,263.9 481.3,262.4C480.6,260.9 480.5,259.4 480.0,255.2C479.6,251.0 479.5,248.2 479.5,243.9C479.4,239.7 479.3,236.9 479.6,236.4Z"/>
<path fill="#94BC32" d="M486.6,217.6C487.1,213.5 487.0,215.1 488.5,214.4C490.0,213.8 491.6,213.6 493.2,214.8C494.7,215.9 494.9,214.6 495.4,219.5C495.9,224.4 495.6,229.2 495.4,236.4C495.3,243.7 495.1,245.5 494.7,251.5C494.2,257.5 494.5,259.8 493.5,262.8C492.6,265.7 491.7,264.3 490.3,264.3C489.0,264.3 488.5,265.7 487.5,262.8C486.6,259.8 486.5,258.3 486.2,251.5C485.9,244.6 486.1,240.4 486.2,232.7C486.3,225.0 486.1,221.8 486.6,217.6Z"/>
<path fill="#BCEE68" d="M489.4,242.1C489.7,237.6 490.2,238.8 490.7,239.2C491.3,239.7 491.6,240.3 491.8,243.9C492.1,247.6 492.1,251.2 491.8,255.2C491.6,259.3 491.3,261.0 490.7,261.8C490.2,262.7 489.7,263.5 489.4,259.0C489.1,254.5 489.1,246.6 489.4,242.1Z"/>
<path fill="#DEB887" d="M485.5,300.4C485.5,300.4 485.5,300.1 485.6,292.8C485.8,285.6 485.2,274.6 486.0,268.4C486.9,262.2 486.9,266.6 489.4,265.6C491.9,264.5 493.7,263.8 496.9,263.7C500.1,263.6 500.7,263.9 503.5,265.0C506.3,266.1 506.8,266.3 509.2,268.4C511.5,270.4 511.9,270.8 513.9,274.0C515.8,277.2 516.1,278.2 517.6,282.5C519.1,286.8 519.7,288.8 520.4,292.8C521.2,296.9 520.8,300.4 520.8,300.4L485.5,300.4Z"/>
<path fill="#FFE100" d="M486.0,300.4C486.0,300.4 486.1,299.7 486.2,292.8C486.3,286.0 485.6,276.2 486.6,270.3C487.5,264.4 488.0,268.0 490.3,266.9C492.7,265.8 493.9,265.4 496.9,265.6C499.9,265.7 500.7,266.0 503.5,267.5C506.3,269.0 506.9,269.6 509.2,272.2C511.4,274.7 511.8,275.5 513.5,278.7C515.2,281.9 515.4,283.1 516.7,286.3C518.0,289.5 518.5,289.6 519.1,292.8C519.8,296.1 519.5,300.4 519.5,300.4L486.0,300.4Z"/>
<path fill="#FFA500" d="M486.6,300.4C486.6,300.4 486.6,299.0 486.8,292.8C486.9,286.6 486.3,278.4 487.1,273.1C488.0,267.8 488.3,270.4 490.3,269.3C492.4,268.3 493.4,268.2 496.0,268.4C498.6,268.6 499.1,268.8 501.6,270.3C504.2,271.8 505.0,272.4 507.3,275.0C509.5,277.5 509.9,278.6 511.6,281.6C513.3,284.6 513.6,285.6 514.8,288.1C515.9,290.7 516.2,290.1 516.7,292.8C517.2,295.6 517.1,300.4 517.1,300.4L486.6,300.4Z"/>
<path fill="#FF4500" d="M487.3,300.4C487.3,300.4 487.4,298.6 487.5,292.8C487.7,287.1 487.3,279.7 487.9,275.0C488.5,270.3 488.7,273.0 490.3,272.2C492.0,271.3 492.7,270.9 495.0,271.2C497.4,271.5 498.2,271.8 500.7,273.5C503.2,275.2 503.8,276.0 506.0,278.7C508.1,281.4 508.5,282.1 510.1,285.3C511.7,288.5 512.1,289.4 512.9,292.8C513.7,296.3 513.5,300.4 513.5,300.4L487.3,300.4Z"/>
<path fill="#B22222" d="M488.1,300.4C488.1,300.4 488.1,298.0 488.3,292.8C488.4,287.7 488.1,281.9 488.7,277.8C489.2,273.7 489.5,275.3 490.9,274.6C492.4,273.9 493.0,274.0 495.0,274.6C497.1,275.2 497.6,275.6 499.7,277.4C501.9,279.2 502.5,279.9 504.4,282.5C506.4,285.2 507.0,286.7 508.2,289.1C509.4,291.4 509.3,290.3 509.7,292.8C510.1,295.4 510.1,300.4 510.1,300.4L488.1,300.4Z"/>
<path fill="#FFB6C1" d="M489.2,300.4C489.2,300.4 489.3,297.1 489.4,292.8C489.5,288.6 489.3,284.8 489.8,281.6C490.3,278.4 490.5,279.4 491.7,278.7C492.9,278.1 493.4,277.9 495.0,278.7C496.7,279.6 497.1,280.6 498.8,282.5C500.5,284.4 501.1,284.9 502.6,287.2C504.1,289.6 504.7,289.9 505.4,292.8C506.1,295.8 505.8,300.4 505.8,300.4L489.2,300.4Z"/>
<path fill="#FF1493" d="M496.2,300.4C496.2,300.4 496.2,294.3 496.6,292.1C496.9,289.9 497.3,290.6 497.9,290.6C498.5,290.6 498.8,289.9 499.2,292.1C499.6,294.3 499.6,300.4 499.6,300.4L496.2,300.4Z"/>
<path fill="#BCEE68" d="M522.7,300.4C522.7,300.4 522.7,297.5 522.9,292.8C523.1,288.1 522.9,284.6 523.6,279.7C524.4,274.8 524.5,274.4 526.1,271.2C527.7,268.0 528.4,267.2 530.8,265.6C533.1,264.0 533.4,264.3 536.4,264.3C539.4,264.3 540.7,264.6 543.9,265.6C547.2,266.5 548.2,266.5 550.5,268.4C552.9,270.3 552.8,271.5 554.3,274.0C555.8,276.6 556.3,276.8 557.1,279.7C558.0,282.6 557.8,282.1 558.1,286.8C558.4,291.5 558.4,300.4 558.4,300.4L522.7,300.4Z"/>
<path fill="#20B2AA" d="M525.0,300.4C525.0,300.4 524.9,296.7 525.1,292.8C525.4,289.0 525.2,287.3 526.1,283.4C526.9,279.6 527.2,278.7 528.9,275.9C530.6,273.1 531.0,272.5 533.6,271.2C536.2,269.9 537.2,270.1 540.2,270.3C543.2,270.5 544.2,270.7 546.8,272.2C549.3,273.7 549.8,274.5 551.5,276.9C553.2,279.2 553.5,280.2 554.3,282.5C555.1,284.8 554.6,282.8 554.9,286.8C555.1,290.9 555.2,300.4 555.2,300.4L525.0,300.4Z"/>
<path fill="#B0E0E6" d="M527.8,300.4C527.8,300.4 527.6,296.1 528.0,292.8C528.3,289.6 528.2,288.8 529.3,286.3C530.3,283.7 530.8,283.3 532.7,281.6C534.5,279.9 535.0,279.4 537.4,278.7C539.7,278.1 540.9,278.1 543.0,278.7C545.1,279.4 545.4,280.1 546.8,281.6C548.2,283.1 548.6,284.1 549.2,285.3C549.9,286.5 549.4,283.4 549.6,286.8C549.8,290.2 550.0,300.4 550.0,300.4L527.8,300.4Z"/>
<path fill="#6495ED" d="M532.7,300.4C532.7,300.4 532.6,295.6 533.0,292.8C533.5,290.1 533.6,289.9 534.5,288.1C535.5,286.4 535.9,286.2 537.4,285.3C538.9,284.5 539.4,284.3 541.1,284.4C542.8,284.5 543.7,285.0 544.9,285.7C546.0,286.4 545.8,284.2 546.2,287.6C546.6,290.9 546.6,300.4 546.6,300.4L532.7,300.4Z"/>
<rect x="370" y="286.8" width="61.1" height="10" fill="#fff"/>
<rect x="540.2" y="286.8" width="62" height="10" fill="#fff"/>
</g>
<rect x="375.0" y="71.0" width="221.6" height="221.8" fill="none" stroke="#000" stroke-width="1.3"/>
<path d="M384.9,71.0v-2.9M384.9,292.8v3.5M397.5,71.0v-2.9M397.5,292.8v3.5M410.1,71.0v-6.0M410.1,292.8v6.6M422.7,71.0v-2.9M422.7,292.8v3.5M435.4,71.0v-2.9M435.4,292.8v3.5M448.0,71.0v-6.0M448.0,292.8v6.6M460.6,71.0v-2.9M460.6,292.8v3.5M473.2,71.0v-2.9M473.2,292.8v3.5M485.8,71.0v-6.0M485.8,292.8v6.6M498.4,71.0v-2.9M498.4,292.8v3.5M511.0,71.0v-2.9M511.0,292.8v3.5M523.6,71.0v-6.0M523.6,292.8v6.6M536.2,71.0v-2.9M536.2,292.8v3.5M548.9,71.0v-2.9M548.9,292.8v3.5M561.5,71.0v-6.0M561.5,292.8v6.6M574.1,71.0v-2.9M574.1,292.8v3.5M586.7,71.0v-2.9M586.7,292.8v3.5M375.0,71.0h-6M375.0,83.3h-6M375.0,95.6h-6M375.0,108.0h-6M375.0,120.3h-6M375.0,144.9h-6M375.0,169.6h-6M375.0,218.9h-6M375.0,255.8h-6M375.0,292.8h-6M596.6,72.1h6M596.6,94.5h6M596.6,134.4h6M596.6,197.9h6" stroke="#000" stroke-width="1.1" fill="none"/>
<text x="347.6" y="74.4" font-size="9.6" text-anchor="start" textLength="15.9" lengthAdjust="spacingAndGlyphs">100</text>
<text x="347.6" y="86.7" font-size="9.6" text-anchor="start" textLength="15.9" lengthAdjust="spacingAndGlyphs">150</text>
<text x="347.6" y="99.0" font-size="9.6" text-anchor="start" textLength="15.9" lengthAdjust="spacingAndGlyphs">200</text>
<text x="347.6" y="111.4" font-size="9.6" text-anchor="start" textLength="15.9" lengthAdjust="spacingAndGlyphs">250</text>
<text x="347.6" y="123.7" font-size="9.6" text-anchor="start" textLength="15.9" lengthAdjust="spacingAndGlyphs">300</text>
<text x="347.6" y="148.3" font-size="9.6" text-anchor="start" textLength="15.9" lengthAdjust="spacingAndGlyphs">400</text>
<text x="347.6" y="173.0" font-size="9.6" text-anchor="start" textLength="15.9" lengthAdjust="spacingAndGlyphs">500</text>
<text x="347.6" y="222.3" font-size="9.6" text-anchor="start" textLength="15.9" lengthAdjust="spacingAndGlyphs">700</text>
<text x="347.6" y="259.2" font-size="9.6" text-anchor="start" textLength="15.9" lengthAdjust="spacingAndGlyphs">850</text>
<text x="342.3" y="296.2" font-size="9.6" text-anchor="start" textLength="21.2" lengthAdjust="spacingAndGlyphs">1000</text>
<text x="607.6" y="75.5" font-size="9.6" text-anchor="start" textLength="10.6" lengthAdjust="spacingAndGlyphs">16</text>
<text x="607.6" y="97.9" font-size="9.6" text-anchor="start" textLength="10.6" lengthAdjust="spacingAndGlyphs">12</text>
<text x="607.6" y="137.8" font-size="9.6" text-anchor="start" textLength="5.3" lengthAdjust="spacingAndGlyphs">8</text>
<text x="607.6" y="201.3" font-size="9.6" text-anchor="start" textLength="5.3" lengthAdjust="spacingAndGlyphs">4</text>
<text x="401.5" y="310.5" font-size="9.4" text-anchor="start" textLength="17.2" lengthAdjust="spacingAndGlyphs">60N</text>
<text x="439.3" y="310.5" font-size="9.4" text-anchor="start" textLength="17.2" lengthAdjust="spacingAndGlyphs">30N</text>
<text x="482.9" y="310.5" font-size="9.4" text-anchor="start" textLength="5.8" lengthAdjust="spacingAndGlyphs">0</text>
<text x="515.0" y="310.5" font-size="9.4" text-anchor="start" textLength="17.2" lengthAdjust="spacingAndGlyphs">30S</text>
<text x="552.8" y="310.5" font-size="9.4" text-anchor="start" textLength="17.2" lengthAdjust="spacingAndGlyphs">60S</text>
<text x="333.5" y="181.9" font-size="12.5" text-anchor="middle" transform="rotate(-90 333.5 181.9)" textLength="99.0" lengthAdjust="spacingAndGlyphs">Pressure (mb)</text>
<text x="635.1" y="181.9" font-size="12.5" text-anchor="middle" transform="rotate(-90 635.1 181.9)" textLength="81.0" lengthAdjust="spacingAndGlyphs">Height (km)</text>
<text y="41.3" font-size="12.5"><tspan x="393.8" textLength="73.1" lengthAdjust="spacingAndGlyphs">aquaplanet</tspan> <tspan x="476.6" textLength="24.8" lengthAdjust="spacingAndGlyphs">(yrs</tspan> <tspan x="510.3" textLength="68.0" lengthAdjust="spacingAndGlyphs">117−136)</tspan></text>
<text y="61.4" font-size="12.3"><tspan x="374.8" textLength="60" lengthAdjust="spacingAndGlyphs">Meridional</tspan> <tspan x="443.3" textLength="28.8" lengthAdjust="spacingAndGlyphs">heat</tspan> <tspan x="477.2" textLength="50.6" lengthAdjust="spacingAndGlyphs">transport</tspan></text>
<text y="61.4" font-size="12.3"><tspan x="510.7" textLength="7.5" lengthAdjust="spacingAndGlyphs">K</tspan> <tspan x="523.2" textLength="29" lengthAdjust="spacingAndGlyphs">m/s</tspan> <tspan x="559.6" textLength="7.5" lengthAdjust="spacingAndGlyphs">x</tspan> <tspan x="575.8" textLength="21" lengthAdjust="spacingAndGlyphs">100</tspan></text>
<text x="401.8" y="323.1" font-size="11.2" text-anchor="start" textLength="17.6" lengthAdjust="spacingAndGlyphs">MIN</text>
<text x="427.0" y="323.1" font-size="11.2" text-anchor="start" textLength="7.3" lengthAdjust="spacingAndGlyphs">=</text>
<text x="442.2" y="323.1" font-size="11.2" text-anchor="start" textLength="37.8" lengthAdjust="spacingAndGlyphs">−11.94</text>
<text x="492.2" y="323.1" font-size="11.2" text-anchor="start" textLength="21.2" lengthAdjust="spacingAndGlyphs">MAX</text>
<text x="518.7" y="323.1" font-size="11.2" text-anchor="start" textLength="8.1" lengthAdjust="spacingAndGlyphs">=</text>
<text x="538.8" y="323.1" font-size="11.2" text-anchor="start" textLength="30.0" lengthAdjust="spacingAndGlyphs">12.31</text>
<rect x="378.10" y="333.7" width="13.49" height="18.8" fill="#9370DB" stroke="#000" stroke-width="0.7"/>
<rect x="391.59" y="333.7" width="13.49" height="18.8" fill="#0000CD" stroke="#000" stroke-width="0.7"/>
<rect x="405.08" y="333.7" width="13.49" height="18.8" fill="#4169E1" stroke="#000" stroke-width="0.7"/>
<rect x="418.56" y="333.7" width="13.49" height="18.8" fill="#6495ED" stroke="#000" stroke-width="0.7"/>
<rect x="432.05" y="333.7" width="13.49" height="18.8" fill="#B0E0E6" stroke="#000" stroke-width="0.7"/>
<rect x="445.54" y="333.7" width="13.49" height="18.8" fill="#20B2AA" stroke="#000" stroke-width="0.7"/>
<rect x="459.03" y="333.7" width="13.49" height="18.8" fill="#BCEE68" stroke="#000" stroke-width="0.7"/>
<rect x="472.51" y="333.7" width="13.49" height="18.8" fill="#94BC32" stroke="#000" stroke-width="0.7"/>
<rect x="486.00" y="333.7" width="13.49" height="18.8" fill="#F5E6BE" stroke="#000" stroke-width="0.7"/>
<rect x="499.49" y="333.7" width="13.49" height="18.8" fill="#DEB887" stroke="#000" stroke-width="0.7"/>
<rect x="512.98" y="333.7" width="13.49" height="18.8" fill="#FFE100" stroke="#000" stroke-width="0.7"/>
<rect x="526.46" y="333.7" width="13.49" height="18.8" fill="#FFA500" stroke="#000" stroke-width="0.7"/>
<rect x="539.95" y="333.7" width="13.49" height="18.8" fill="#FF4500" stroke="#000" stroke-width="0.7"/>
<rect x="553.44" y="333.7" width="13.49" height="18.8" fill="#B22222" stroke="#000" stroke-width="0.7"/>
<rect x="566.93" y="333.7" width="13.49" height="18.8" fill="#FFB6C1" stroke="#000" stroke-width="0.7"/>
<rect x="580.41" y="333.7" width="13.49" height="18.8" fill="#FF1493" stroke="#000" stroke-width="0.7"/>
<text x="381.8" y="366.3" font-size="10.2" text-anchor="start" textLength="19.5" lengthAdjust="spacingAndGlyphs">−12</text>
<text x="412.1" y="366.3" font-size="10.2" text-anchor="start" textLength="13.0" lengthAdjust="spacingAndGlyphs">−8</text>
<text x="439.0" y="366.3" font-size="10.2" text-anchor="start" textLength="13.0" lengthAdjust="spacingAndGlyphs">−4</text>
<text x="466.0" y="366.3" font-size="10.2" text-anchor="start" textLength="13.0" lengthAdjust="spacingAndGlyphs">−1</text>
<text x="496.2" y="366.3" font-size="10.2" text-anchor="start" textLength="6.5" lengthAdjust="spacingAndGlyphs">1</text>
<text x="523.2" y="366.3" font-size="10.2" text-anchor="start" textLength="6.5" lengthAdjust="spacingAndGlyphs">4</text>
<text x="550.2" y="366.3" font-size="10.2" text-anchor="start" textLength="6.5" lengthAdjust="spacingAndGlyphs">8</text>
<text x="573.9" y="366.3" font-size="10.2" text-anchor="start" textLength="13.0" lengthAdjust="spacingAndGlyphs">12</text>
<clipPath id="cp3"><rect x="214.3" y="425.3" width="221.2" height="221.8"/></clipPath>
<g clip-path="url(#cp3)">
<rect x="210" y="420" width="230" height="232" fill="#F5E6BE"/>
<path fill="#94BC32" d="M253.9,437.0C256.3,436.5 256.3,436.5 258.3,437.7C260.3,438.8 260.8,439.6 262.7,442.1C264.5,444.5 264.9,445.5 266.4,448.3C268.0,451.2 267.6,452.3 269.6,454.6C271.6,456.9 272.6,456.7 275.2,458.4C277.8,460.1 280.8,462.1 280.8,462.1C280.8,462.1 279.9,465.5 278.3,468.4C276.8,471.2 275.8,471.8 273.9,474.7C272.1,477.5 271.5,477.5 270.2,480.9C268.9,484.4 268.9,486.0 268.3,489.7C267.7,493.4 268.0,496.0 267.7,497.2C267.4,498.4 267.3,492.7 267.1,495.0C266.8,497.3 266.7,501.8 266.4,507.5C266.1,513.2 266.2,514.4 265.8,520.1C265.4,525.8 265.3,528.2 264.5,532.6C263.8,537.0 263.7,537.5 262.7,539.5C261.7,541.6 261.4,541.6 260.2,541.6C258.9,541.7 258.7,539.8 257.0,539.9C255.3,540.0 254.8,540.8 252.6,542.0C250.5,543.2 249.3,543.6 247.6,545.2C245.9,546.7 245.6,546.1 245.1,548.9C244.6,551.8 245.1,553.4 245.4,557.7C245.6,562.0 245.9,565.4 246.1,567.7C246.3,570.1 246.4,565.1 246.4,568.0C246.4,570.9 246.3,574.8 246.1,580.5C246.0,586.2 246.0,587.8 245.7,593.1C245.5,598.4 245.1,603.7 245.1,603.7C245.1,603.7 244.2,597.8 243.6,594.3C243.0,590.9 242.4,588.7 242.4,588.7C242.4,588.7 241.8,589.5 241.3,593.1C240.9,596.6 240.9,599.5 240.3,604.4C239.8,609.2 240.1,611.5 239.1,614.4C238.0,617.3 237.1,616.7 235.7,617.2C234.3,617.6 233.6,618.0 232.8,616.3C232.1,614.5 232.7,612.7 232.3,609.4C232.0,606.1 231.3,601.9 231.3,601.9C231.3,601.9 230.8,605.7 230.7,609.4C230.5,613.1 230.4,615.0 230.7,618.2C231.0,621.3 230.9,621.6 231.9,623.2C232.9,624.7 233.5,623.9 235.1,625.1C236.6,626.2 238.4,626.6 238.8,628.2C239.3,629.8 237.8,630.1 237.0,631.9C236.1,633.8 235.1,636.3 235.1,636.3L213.8,636.3L213.8,560.2C213.8,560.2 217.0,558.6 218.2,555.2C219.3,551.8 218.6,550.3 218.8,545.2C219.0,540.0 218.9,537.9 219.0,532.6C219.2,527.3 218.9,525.0 219.4,522.0C219.9,519.0 220.3,519.3 221.0,519.5C221.7,519.6 222.1,519.6 222.5,522.6C223.0,525.6 222.8,528.1 222.9,532.6C223.1,537.2 222.9,538.7 223.2,542.6C223.4,546.6 224.0,550.2 224.0,550.2C224.0,550.2 224.9,551.2 225.3,548.9C225.7,546.6 225.4,544.4 225.7,540.1C225.9,535.9 225.7,534.7 226.3,530.1C226.9,525.6 227.2,524.4 228.2,520.1C229.2,515.8 229.8,515.3 230.7,511.3C231.5,507.3 231.7,504.0 231.9,502.5C232.1,501.1 231.5,506.2 231.6,505.0C231.7,503.8 232.1,500.7 232.3,497.2C232.5,493.8 232.5,493.4 232.3,489.7C232.1,486.0 231.7,484.9 231.6,480.9C231.5,476.9 231.4,476.1 231.9,472.2C232.5,468.2 232.5,467.4 233.8,463.4C235.1,459.4 235.6,458.4 237.6,454.6C239.6,450.8 240.3,449.7 242.6,446.5C244.9,443.2 245.1,442.3 247.6,440.2C250.2,438.0 251.5,437.6 253.9,437.0Z"/>
<path fill="#F5E6BE" d="M214.5,620.7C214.5,620.7 216.4,623.2 217.5,623.2C218.6,623.2 218.4,621.5 219.4,620.7C220.4,619.8 220.8,619.0 221.9,619.4C223.1,619.8 223.3,621.6 224.4,622.5C225.6,623.5 226.8,624.7 226.9,623.4C227.0,622.1 225.7,620.9 224.8,616.9C223.9,612.9 223.4,612.5 222.8,605.6C222.2,598.8 222.4,594.8 222.0,586.8C221.6,578.8 221.0,570.5 221.0,570.5C221.0,570.5 220.1,574.0 219.8,580.5C219.4,587.1 219.3,591.9 219.5,599.3C219.7,606.8 220.8,608.9 220.7,613.1C220.5,617.4 219.9,617.0 218.8,618.2C217.6,619.3 215.6,618.2 215.6,618.2L214.5,620.7Z"/>
<path fill="#BCEE68" d="M218.5,636.3C218.5,636.3 218.2,631.7 218.8,629.4C219.3,627.2 220.0,626.3 221.0,626.3C222.0,626.3 222.5,627.2 223.2,629.4C223.8,631.7 223.8,636.3 223.8,636.3L218.5,636.3Z"/>
<path fill="#BCEE68" d="M225.7,636.3C225.7,636.3 225.8,631.9 226.9,629.4C228.1,627.0 229.3,626.0 230.7,625.7C232.1,625.4 232.5,625.8 233.2,628.2C233.9,630.6 233.8,636.3 233.8,636.3L225.7,636.3Z"/>
<path fill="#BCEE68" d="M254.5,443.9C256.2,444.1 256.6,443.9 258.3,445.2C260.0,446.5 260.5,447.2 262.0,449.6C263.6,452.0 264.1,452.7 265.2,455.9C266.2,459.0 266.4,459.7 266.7,463.4C266.9,467.1 266.8,468.2 266.2,472.2C265.5,476.1 265.1,476.9 263.9,480.9C262.7,484.9 262.1,486.4 260.8,489.7C259.5,493.0 259.4,493.7 258.3,495.4C257.1,497.0 257.1,497.3 255.8,497.0C254.5,496.7 254.2,496.0 252.6,494.1C251.1,492.2 250.4,491.7 248.9,488.5C247.3,485.2 246.9,483.7 245.7,479.7C244.5,475.7 244.3,474.9 243.6,470.9C242.9,466.9 242.7,465.8 242.9,462.1C243.0,458.4 243.2,457.7 244.1,454.6C245.0,451.5 245.5,450.6 247.0,448.3C248.5,446.1 249.0,445.6 250.8,444.6C252.5,443.6 252.8,443.8 254.5,443.9Z"/>
<path fill="#20B2AA" d="M256.1,450.2C256.1,450.2 257.6,452.0 258.9,454.6C260.2,457.2 261.2,458.5 261.7,461.5C262.1,464.5 261.6,464.9 260.8,467.8C260.0,470.6 259.5,472.0 258.3,474.0C257.1,476.0 256.7,476.5 255.4,476.5C254.1,476.5 253.8,475.9 252.6,474.0C251.5,472.2 251.3,471.1 250.4,468.4C249.5,465.7 248.5,464.8 248.6,462.1C248.7,459.4 249.6,458.8 250.8,456.5C251.9,454.2 252.7,453.5 253.9,452.1C255.1,450.7 256.1,450.2 256.1,450.2Z"/>
<path fill="#94BC32" d="M213.8,495.6C213.8,495.6 215.0,496.6 215.6,498.8C216.3,500.9 216.6,502.2 216.5,505.0C216.4,507.9 215.9,509.6 215.3,511.3C214.6,513.0 213.8,512.6 213.8,512.6L213.8,495.6Z"/>
<path fill="#94BC32" d="M352.1,422.0C352.1,422.0 351.7,429.4 351.5,434.5C351.3,439.7 351.5,440.3 351.2,444.6C350.9,448.8 351.0,449.6 350.2,453.3C349.4,457.1 349.1,457.7 347.7,460.9C346.3,464.0 345.9,464.6 343.9,467.1C341.9,469.7 340.9,470.2 338.9,472.2C336.9,474.2 335.2,475.9 335.2,475.9C335.2,475.9 336.7,477.9 338.2,480.1C339.6,482.2 339.8,484.3 341.4,485.2C343.0,486.1 343.7,485.0 345.2,483.8C346.7,482.6 346.7,481.3 348.1,480.1C349.5,478.8 350.1,478.0 351.3,478.2C352.6,478.4 353.0,478.9 353.7,481.0C354.4,483.1 354.4,484.4 354.6,487.6C354.8,490.8 354.7,491.7 354.4,495.1C354.1,498.5 353.7,499.4 353.2,502.6C352.7,505.8 352.8,506.2 352.3,509.2C351.8,512.2 351.5,513.0 350.9,515.8C350.3,518.6 350.0,518.9 349.6,521.4C349.2,523.9 349.4,525.0 349.0,527.0C348.6,529.0 348.6,527.1 347.7,530.1C346.8,533.1 346.3,535.6 345.2,540.1C344.0,544.7 343.8,545.6 342.7,550.2C341.5,554.7 341.2,555.6 340.2,560.2C339.2,564.8 338.9,566.2 338.3,570.2C337.7,574.3 337.7,574.8 337.7,578.0C337.7,581.2 337.6,580.9 338.3,584.3C339.0,587.7 339.5,590.5 340.8,593.1C342.1,595.6 342.5,596.2 343.9,595.6C345.4,595.0 346.1,594.0 347.1,590.6C348.1,587.2 347.8,584.0 348.3,580.5C348.8,577.1 348.5,579.3 349.2,575.5C349.9,571.8 350.5,569.4 351.5,564.0C352.4,558.5 352.2,557.1 353.3,551.4C354.5,545.7 354.9,543.4 356.5,538.9C358.0,534.3 358.7,533.7 360.2,531.4C361.8,529.0 363.4,528.6 363.4,528.6C363.4,528.6 362.1,532.0 362.5,536.4C362.9,540.7 364.2,542.2 365.0,547.7C365.9,553.1 366.1,555.1 366.3,560.2C366.4,565.3 365.9,568.5 365.6,570.2C365.4,572.0 365.3,565.7 365.0,568.0C364.7,570.3 364.7,574.8 364.4,580.5C364.1,586.2 364.0,587.4 363.8,593.1C363.5,598.8 363.0,599.9 363.1,605.6C363.3,611.3 363.4,614.2 364.4,618.2C365.4,622.1 365.7,621.5 367.5,623.2C369.4,624.9 370.3,624.5 372.5,625.7C374.8,626.8 375.6,626.8 377.6,628.2C379.5,629.6 380.0,630.1 381.3,631.9C382.6,633.8 383.2,636.3 383.2,636.3L413.9,636.3C413.9,636.3 411.3,634.8 410.2,633.2C409.0,631.6 408.6,631.2 408.9,629.4C409.2,627.7 409.8,627.1 411.4,625.7C413.0,624.3 414.9,624.6 415.8,623.2C416.7,621.7 416.2,622.0 415.2,619.4C414.2,616.8 412.7,616.4 411.4,611.9C410.1,607.3 410.2,605.0 409.5,599.3C408.8,593.6 408.8,591.7 408.3,586.8C407.8,582.0 407.4,578.0 407.4,578.0C407.4,578.0 407.1,583.4 406.4,586.8C405.7,590.2 404.5,593.1 404.5,593.1C404.5,593.1 404.3,586.2 404.1,580.5C404.0,574.8 403.9,571.8 403.9,568.0C403.9,564.2 403.9,567.7 404.1,564.0C404.4,560.2 404.9,555.7 404.9,551.4C404.8,547.2 405.0,547.3 403.9,545.2C402.8,543.0 402.5,543.2 400.1,542.0C397.7,540.8 395.7,540.0 393.2,539.9C390.8,539.7 389.5,541.4 389.5,541.4C389.5,541.4 386.8,540.7 385.7,536.4C384.6,532.1 385.0,529.1 384.5,522.6C383.9,516.0 383.6,513.8 383.2,507.5C382.8,501.3 383.0,498.5 382.8,495.0C382.7,491.5 382.8,494.6 382.6,492.2C382.4,489.9 382.5,487.8 381.9,484.7C381.4,481.6 381.3,481.0 380.1,478.4C378.8,475.9 378.0,475.7 376.3,473.4C374.6,471.1 373.8,471.0 372.5,468.4C371.3,465.8 370.7,462.1 370.7,462.1C370.7,462.1 373.2,461.4 375.0,460.2C376.9,459.1 377.2,459.2 378.8,457.1C380.4,455.0 380.5,453.7 381.9,450.8C383.4,448.0 383.5,447.1 385.1,444.6C386.6,442.0 386.8,441.1 388.8,439.6C390.8,438.0 391.3,437.8 393.9,437.7C396.4,437.5 397.6,437.9 400.1,438.9C402.7,439.9 402.9,439.9 405.1,442.1C407.4,444.2 407.9,445.2 410.2,448.3C412.4,451.5 412.9,452.4 415.2,455.9C417.5,459.3 418.6,461.0 420.2,463.4C421.8,465.8 421.0,464.2 422.3,466.3C423.6,468.4 424.8,469.3 425.9,472.6C427.0,475.9 426.9,476.7 427.3,481.0C427.7,485.3 427.6,486.7 427.8,491.5C428.0,496.3 427.9,497.7 428.0,502.0C428.1,506.3 427.9,508.1 428.4,510.4C428.9,512.7 430.1,512.3 430.1,512.3C430.1,512.3 431.5,512.7 432.2,510.4C432.9,508.1 432.8,505.3 433.3,502.0C433.8,498.7 433.0,499.2 434.5,496.0C436.0,492.8 440.0,488.0 440.0,488.0L440.0,415.0L352.1,422.0Z"/>
<path fill="#DEB887" d="M393.2,445.2C395.1,444.9 395.6,445.0 397.6,446.5C399.6,447.9 400.3,448.8 402.0,451.5C403.7,454.2 404.2,455.1 405.1,458.4C406.1,461.6 406.1,462.2 406.1,465.9C406.1,469.6 405.9,471.0 405.1,474.7C404.3,478.4 404.1,479.2 402.6,482.2C401.2,485.2 400.7,486.0 398.9,487.8C397.0,489.7 396.2,490.5 394.5,490.3C392.8,490.2 392.8,489.6 391.3,487.2C389.9,484.8 389.5,483.4 388.2,479.7C386.9,476.0 386.5,474.9 385.7,470.9C384.9,466.9 384.7,466.1 384.8,462.1C384.9,458.1 385.0,456.6 386.1,453.3C387.1,450.1 387.8,449.6 389.5,447.7C391.1,445.9 391.4,445.5 393.2,445.2Z"/>
<path fill="#FFE100" d="M393.6,454.9C393.6,454.9 395.5,456.1 397.0,457.7C398.5,459.4 399.7,460.1 400.1,462.1C400.6,464.1 399.7,464.8 398.9,466.5C398.0,468.2 397.6,468.7 396.4,469.6C395.2,470.6 394.7,471.2 393.6,470.7C392.5,470.1 392.2,468.9 391.3,467.1C390.5,465.3 389.9,464.7 389.8,462.8C389.8,460.8 390.2,460.2 391.1,458.4C392.0,456.6 393.6,454.9 393.6,454.9Z"/>
<path fill="#BCEE68" d="M352.1,422.0C352.1,422.0 351.7,429.4 351.5,434.5C351.3,439.7 351.5,440.3 351.2,444.6C350.9,448.8 351.0,449.6 350.2,453.3C349.4,457.1 349.1,457.7 347.7,460.9C346.3,464.0 345.7,464.6 343.9,467.1C342.2,469.6 341.6,469.9 339.9,471.9C338.3,473.9 336.7,475.9 336.7,475.9C336.7,475.9 337.7,477.3 338.7,478.7C339.6,480.0 340.0,481.1 340.9,481.9C341.9,482.8 341.9,483.0 342.9,482.4C344.0,481.9 344.4,481.2 345.4,479.7C346.5,478.2 346.5,477.4 347.4,475.9C348.4,474.4 348.5,473.8 349.6,473.2C350.6,472.5 350.4,473.7 352.1,472.9C353.8,472.1 355.1,469.4 357.0,469.7C358.9,470.0 359.5,472.1 360.3,474.4C361.1,476.7 360.6,477.0 360.6,480.0C360.6,483.0 360.2,484.2 360.3,487.6C360.4,491.0 360.4,491.1 361.2,495.1C362.0,499.1 362.6,500.5 363.8,505.0C364.9,509.6 365.1,510.5 366.3,515.1C367.4,519.6 367.6,520.5 368.8,525.1C369.9,529.7 370.3,530.9 371.3,535.1C372.3,539.4 373.0,540.2 373.2,543.9C373.3,547.6 372.3,547.2 371.9,551.4C371.5,555.7 371.7,557.9 371.3,562.7C370.9,567.6 370.5,569.3 370.0,572.7C369.6,576.2 370.0,574.5 369.4,578.0C368.8,581.5 368.4,583.2 367.5,588.1C366.7,592.9 366.2,594.2 365.6,599.3C365.1,604.5 364.9,606.1 365.0,610.6C365.2,615.2 365.1,616.6 366.3,619.4C367.4,622.3 368.0,621.9 370.0,623.2C372.0,624.5 372.9,623.9 375.0,625.1C377.2,626.2 377.7,626.3 379.4,628.2C381.1,630.0 381.6,631.4 382.6,633.2C383.6,635.1 383.8,636.3 383.8,636.3L407.6,636.3C407.6,636.3 407.4,630.8 407.0,626.9C406.6,623.1 406.6,622.8 405.8,619.4C404.9,616.0 404.5,615.3 403.3,611.9C402.0,608.5 401.4,608.1 400.1,604.4C398.8,600.7 398.6,599.6 397.6,595.6C396.6,591.6 396.9,590.2 395.7,586.8C394.6,583.4 394.2,583.1 392.6,580.5C391.0,578.0 391.1,577.9 388.8,575.5C386.6,573.2 384.6,573.7 382.6,570.2C380.6,566.8 381.2,564.8 380.1,560.2C378.9,555.6 378.6,554.3 377.6,550.2C376.6,546.0 376.3,543.6 375.7,542.0C375.0,540.5 374.9,544.6 374.8,543.3C374.7,542.0 375.1,540.2 375.3,536.4C375.5,532.5 375.5,531.5 375.7,526.3C375.8,521.2 376.2,519.2 376.1,513.8C375.9,508.4 375.8,506.8 375.0,502.5C374.2,498.2 373.5,497.9 372.5,495.0C371.5,492.1 371.8,492.9 370.7,489.7C369.5,486.5 368.8,484.9 367.5,480.9C366.2,476.9 366.0,476.1 365.0,472.2C364.0,468.2 363.6,465.9 363.1,463.4C362.7,460.8 362.1,462.3 363.1,460.9C364.1,459.4 365.1,459.4 367.5,457.1C369.9,454.8 371.2,453.4 373.8,450.8C376.4,448.3 376.5,448.1 378.8,445.8C381.1,443.5 382.0,443.1 383.8,440.8C385.7,438.5 385.7,438.1 387.0,435.8C388.2,433.5 388.0,433.9 389.5,430.8C390.9,427.6 393.2,422.0 393.2,422.0L352.1,422.0Z"/>
<path fill="#20B2AA" d="M386.1,422.0C386.1,422.0 384.4,428.6 383.2,432.0C382.0,435.5 382.3,434.8 380.7,437.0C379.1,439.3 378.4,439.8 376.3,442.1C374.2,444.3 373.6,444.5 371.3,447.1C369.0,449.6 368.8,450.5 366.3,453.3C363.7,456.2 362.5,457.3 360.0,459.6C357.5,461.9 357.4,461.7 355.2,463.4C353.0,465.1 351.9,465.9 350.2,467.1C348.5,468.3 348.5,469.1 347.7,468.6C346.9,468.2 346.5,467.3 346.8,465.3C347.1,463.2 347.9,462.3 348.9,459.6C350.0,456.9 350.5,456.8 351.5,453.3C352.5,449.9 352.8,448.8 353.3,444.6C353.9,440.3 353.3,438.0 353.7,434.5C354.1,431.1 354.5,432.4 355.2,429.5C355.9,426.7 356.7,422.0 356.7,422.0L386.1,422.0Z"/>
<path fill="#B0E0E6" d="M360.0,430.2C360.2,430.0 362.1,429.9 363.8,430.8C365.5,431.6 366.2,432.5 367.5,433.9C368.8,435.3 369.5,435.2 369.4,437.0C369.3,438.9 368.2,439.8 366.9,442.1C365.6,444.3 365.3,444.9 363.8,447.1C362.2,449.2 361.4,450.0 360.0,451.5C358.6,452.9 358.5,453.9 357.7,453.3C356.9,452.8 356.8,451.2 356.5,449.0C356.1,446.7 356.1,445.7 356.2,443.3C356.4,440.9 356.5,440.6 357.1,438.3C357.7,436.0 357.7,434.9 359.0,433.3C360.3,431.7 362.5,432.1 362.7,431.4C363.0,430.7 359.8,430.3 360.0,430.2Z"/>
<path fill="#6495ED" d="M358.4,437.3C358.8,436.6 359.7,436.5 360.9,436.4C362.0,436.4 363.0,436.3 363.4,437.0C363.7,437.8 363.3,438.7 362.5,439.6C361.7,440.4 360.7,440.8 359.9,440.8C359.0,440.8 359.1,440.4 358.7,439.6C358.4,438.8 357.9,438.0 358.4,437.3Z"/>
<path fill="#20B2AA" d="M339.5,474.7C339.7,473.5 341.3,472.4 342.7,472.2C344.1,471.9 345.3,472.6 345.8,473.4C346.3,474.3 345.8,475.0 344.9,475.9C344.1,476.8 343.3,477.7 342.1,477.4C340.8,477.1 339.4,475.9 339.5,474.7Z"/>
<path fill="#DEB887" d="M258.3,422.0C258.3,422.0 260.7,428.3 262.7,431.4C264.7,434.5 265.2,433.7 267.1,435.8C268.9,437.9 269.0,438.7 270.8,440.8C272.7,442.9 273.1,443.5 275.2,445.2C277.3,446.9 277.9,446.6 280.2,448.3C282.5,450.0 283.0,450.3 285.2,452.7C287.5,455.1 288.1,456.7 290.0,459.0C292.0,461.3 292.2,460.8 293.8,462.8C295.3,464.7 295.6,465.3 296.9,467.4C298.2,469.4 297.8,469.3 299.4,471.8C301.0,474.3 302.2,476.0 304.1,478.3C306.0,480.6 306.2,481.6 307.8,482.1C309.4,482.5 309.9,481.7 311.2,480.2C312.5,478.7 312.8,477.4 313.5,475.5C314.1,473.7 314.7,473.5 314.1,471.9C313.5,470.3 312.5,470.6 310.7,468.6C308.9,466.7 308.0,466.3 306.3,463.4C304.6,460.5 304.3,459.6 303.2,455.9C302.0,452.2 302.1,451.4 301.3,447.1C300.5,442.8 300.3,442.7 299.8,437.0C299.3,431.3 299.0,422.0 299.0,422.0L258.3,422.0Z"/>
<path fill="#FFE100" d="M263.9,422.0C263.9,422.0 266.0,428.3 267.7,431.4C269.4,434.5 269.7,433.8 271.4,435.8C273.2,437.8 273.4,438.3 275.2,440.2C277.1,442.0 277.5,442.2 279.6,443.9C281.7,445.7 282.2,445.1 284.6,447.7C287.0,450.3 287.6,452.8 290.0,455.2C292.4,457.7 293.0,456.8 295.0,458.4C297.0,459.9 297.1,459.8 298.8,462.1C300.5,464.4 301.0,465.5 302.6,468.4C304.1,471.2 304.3,472.4 305.7,474.7C307.1,476.9 307.4,477.9 308.8,478.4C310.2,479.0 311.1,478.3 312.0,477.2C312.8,476.0 313.4,475.4 312.6,473.4C311.7,471.4 310.0,471.0 308.2,468.4C306.3,465.8 306.0,465.3 304.4,462.1C302.9,459.0 302.4,458.6 301.3,454.6C300.2,450.6 300.1,449.1 299.4,444.6C298.7,440.0 298.7,439.7 298.2,434.5C297.7,429.4 297.3,422.0 297.3,422.0L263.9,422.0Z"/>
<path fill="#FFA500" d="M281.2,437.7C281.2,436.2 282.5,435.4 283.7,433.9C285.0,432.4 285.2,431.7 286.9,431.0C288.6,430.4 289.6,430.5 291.3,431.0C293.0,431.5 293.3,431.6 294.4,433.3C295.5,434.9 295.7,435.7 296.3,438.3C296.9,440.9 296.9,441.9 296.9,444.6C296.9,447.3 296.9,448.2 296.3,450.2C295.7,452.2 295.4,452.9 294.4,453.3C293.4,453.8 293.2,453.5 291.9,452.1C290.6,450.7 290.0,449.4 288.8,447.1C287.5,444.8 287.4,443.6 286.3,442.1C285.1,440.5 284.9,441.2 283.7,440.2C282.6,439.2 281.2,439.1 281.2,437.7Z"/>
<path fill="#FF4500" d="M286.9,437.0C287.2,436.3 287.6,436.0 288.8,435.8C289.9,435.6 290.9,435.6 291.9,436.0C292.9,436.5 293.2,436.6 293.2,437.7C293.2,438.8 292.5,439.7 291.9,440.8C291.3,441.9 291.4,442.7 290.6,442.7C289.9,442.7 289.5,441.7 288.8,440.8C288.0,440.0 287.7,439.8 287.3,438.9C286.8,438.1 286.5,437.8 286.9,437.0Z"/>
<path fill="#DEB887" d="M285.9,480.9C286.7,481.2 287.4,481.4 287.7,483.4C288.1,485.4 287.4,487.1 287.4,489.7C287.4,492.3 287.9,492.1 287.7,495.0C287.6,497.9 287.3,498.8 286.7,502.5C286.2,506.2 286.0,507.0 285.2,511.3C284.5,515.6 284.2,516.8 283.4,521.3C282.5,525.9 282.3,526.8 281.5,531.4C280.6,535.9 280.3,536.8 279.6,541.4C278.9,546.0 278.6,546.9 278.3,551.4C278.1,556.0 278.2,557.2 278.3,561.5C278.5,565.7 278.7,568.7 279.0,570.2C279.3,571.7 279.3,566.8 279.6,568.0C279.9,569.2 279.6,571.8 280.2,575.5C280.8,579.2 281.2,580.3 282.1,584.3C283.0,588.3 283.3,588.8 284.0,593.1C284.7,597.4 284.8,598.6 285.2,603.1C285.7,607.7 286.1,609.2 285.9,613.1C285.6,617.1 285.3,618.1 284.0,620.7C282.7,623.2 282.2,623.0 280.2,624.4C278.2,625.9 277.2,625.8 275.2,626.9C273.2,628.1 272.7,628.0 271.4,629.4C270.2,630.9 270.3,631.5 269.6,633.2C268.8,634.9 268.3,637.0 268.3,637.0L237.6,637.0C237.6,637.0 239.3,632.9 240.7,629.4C242.1,626.0 242.3,625.3 243.9,621.9C245.4,618.5 246.1,618.1 247.6,614.4C249.2,610.7 249.8,609.6 250.8,605.6C251.7,601.6 251.4,600.8 252.0,596.8C252.6,592.9 252.3,591.5 253.3,588.1C254.3,584.6 254.8,584.4 256.4,581.8C258.0,579.2 257.9,578.8 260.2,576.8C262.4,574.8 264.7,574.6 266.4,573.0C268.2,571.4 267.1,572.5 267.9,569.6C268.8,566.7 269.1,564.9 270.2,560.2C271.3,555.5 271.8,553.8 272.7,548.9C273.6,544.1 273.9,544.0 274.2,538.9C274.5,533.8 274.2,532.0 273.9,526.3C273.7,520.6 273.1,519.2 272.9,513.8C272.8,508.4 272.8,506.8 273.3,502.5C273.8,498.2 274.7,495.9 275.2,495.0C275.7,494.1 274.7,499.1 275.5,498.5C276.2,497.9 277.0,495.1 278.3,492.2C279.7,489.4 280.2,488.2 281.5,485.9C282.8,483.7 283.0,483.3 284.0,482.2C285.0,481.0 285.0,480.6 285.9,480.9Z"/>
<path fill="#FFE100" d="M241.3,637.0C241.3,637.0 241.3,637.1 242.0,635.1C242.7,633.1 243.2,631.5 244.5,628.2C245.8,624.9 245.9,624.4 247.6,620.7C249.3,617.0 250.3,615.6 252.0,611.9C253.7,608.2 253.7,607.8 255.1,604.4C256.6,600.9 257.0,599.5 258.3,596.8C259.6,594.1 259.5,593.9 260.8,592.5C262.1,591.0 263.9,590.6 263.9,590.6L267.1,592.5C267.1,592.5 268.8,591.1 270.2,589.9C271.6,588.8 273.3,587.4 273.3,587.4C273.3,587.4 274.7,588.4 275.8,590.6C277.0,592.7 277.2,593.7 278.3,596.8C279.5,600.0 279.8,600.9 280.8,604.4C281.8,607.8 282.4,608.8 282.7,611.9C283.1,615.0 283.2,615.7 282.5,618.2C281.8,620.6 281.2,621.0 279.6,622.5C277.9,624.1 277.1,623.9 275.2,625.1C273.4,626.2 272.9,626.0 271.4,627.6C270.0,629.1 269.8,629.8 268.9,631.9C268.1,634.1 267.7,637.0 267.7,637.0L241.3,637.0Z"/>
<path fill="#FFA500" d="M244.5,637.0C244.5,637.0 244.4,636.5 245.1,635.1C245.8,633.7 245.9,632.5 247.6,630.7C249.3,628.8 250.6,628.6 252.6,626.9C254.6,625.2 255.1,625.2 256.4,623.2C257.7,621.2 257.1,620.0 258.3,618.2C259.4,616.3 259.6,616.0 261.4,615.0C263.3,614.0 263.9,614.1 266.4,613.8C269.0,613.5 270.4,613.3 272.7,613.8C275.0,614.2 276.2,614.7 276.5,615.6C276.7,616.6 275.7,617.2 273.9,618.2C272.2,619.2 271.2,619.2 268.9,620.0C266.7,620.9 265.3,620.9 263.9,621.9C262.5,622.9 262.2,623.3 262.7,624.4C263.1,625.6 264.9,625.5 265.8,626.9C266.7,628.4 266.6,628.4 266.4,630.7C266.3,633.0 265.2,637.0 265.2,637.0L244.5,637.0Z"/>
<path fill="#FF4500" d="M253.0,637.0C253.0,637.0 253.1,632.3 253.9,630.1C254.7,627.8 255.1,627.6 256.4,626.9C257.7,626.3 258.4,626.5 259.5,627.2C260.6,627.9 261.0,627.8 261.2,630.1C261.3,632.3 260.2,637.0 260.2,637.0L253.0,637.0Z"/>
<path fill="#94BC32" d="M299.0,422.0C299.0,422.0 299.2,429.4 299.4,434.5C299.6,439.7 299.5,440.0 300.0,444.6C300.6,449.1 300.8,450.6 301.9,454.6C303.1,458.6 303.4,459.0 305.1,462.1C306.8,465.3 307.4,466.0 309.5,468.4C311.5,470.8 312.8,470.8 314.1,472.8C315.4,474.8 315.0,475.5 315.1,477.2C315.2,478.9 315.3,478.5 314.5,480.2C313.7,481.8 313.1,483.0 311.6,484.4C310.1,485.8 309.5,486.5 307.8,486.3C306.1,486.1 306.0,485.4 304.1,483.6C302.2,481.7 301.6,480.4 299.4,478.3C297.2,476.2 294.3,474.2 294.3,474.2C294.3,474.2 293.6,477.4 293.8,480.9C293.9,484.5 295.0,486.5 295.0,489.7C295.1,492.9 294.1,492.1 294.0,495.0C294.0,497.9 294.1,498.8 294.8,502.5C295.4,506.2 295.9,507.6 296.9,511.3C297.9,515.0 298.2,515.4 299.0,518.8C299.9,522.2 300.0,522.6 300.7,526.3C301.3,530.1 301.2,530.9 301.9,535.1C302.6,539.4 302.8,540.6 303.8,545.2C304.8,549.7 305.0,550.6 306.3,555.2C307.6,559.7 308.2,561.2 309.5,565.2C310.7,569.2 310.8,569.0 312.0,572.7C313.1,576.4 314.5,581.5 314.5,581.5L324.7,581.5L324.7,576.3C324.7,576.3 329.9,577.0 332.6,577.1C335.4,577.2 335.7,577.8 337.0,576.8C338.4,575.8 338.8,573.1 338.7,572.7C338.5,572.4 337.8,575.0 336.4,575.3C335.0,575.5 334.9,574.5 332.6,573.7C330.4,572.9 328.7,572.1 326.4,571.7C324.1,571.4 324.6,572.7 322.6,572.4C320.7,572.0 319.6,572.7 317.9,570.2C316.1,567.8 316.1,565.4 315.1,561.5C314.0,557.5 313.9,556.4 313.2,552.7C312.5,549.0 312.5,548.6 312.0,545.2C311.4,541.7 311.3,541.3 310.7,537.6C310.1,533.9 310.0,532.6 309.5,528.9C308.9,525.2 308.2,521.3 308.2,521.3L305.7,511.3C305.7,511.3 307.7,518.3 310.1,520.5C312.5,522.6 313.5,521.2 316.3,521.0C319.2,520.7 320.6,520.6 322.6,519.5C324.7,518.3 324.9,520.7 325.4,515.7C325.9,510.6 325.0,518.5 324.9,497.2C324.7,475.9 324.6,422.0 324.6,422.0L299.0,422.0Z"/>
<path fill="#94BC32" d="M283.7,582.8C283.7,582.8 284.3,557.6 285.0,547.7C285.7,537.7 285.9,542.3 286.9,538.9C287.9,535.5 288.4,534.5 289.4,532.6C290.4,530.8 290.4,530.2 291.3,530.7C292.1,531.3 292.2,531.8 293.2,535.1C294.1,538.4 294.7,540.6 295.7,545.2C296.7,549.7 296.8,550.6 297.5,555.2C298.3,559.7 298.5,558.9 299.0,565.2C299.6,571.5 299.8,582.8 299.8,582.8L283.7,582.8Z"/>
<path fill="#BCEE68" d="M297.8,485.4C298.5,483.1 299.9,484.8 301.3,485.9C302.7,487.1 302.9,488.4 303.8,490.3C304.7,492.2 304.2,493.2 305.3,494.4C306.5,495.5 307.4,496.1 308.8,495.2C310.2,494.4 310.1,493.4 311.6,490.6C313.1,487.8 313.6,486.1 315.3,483.1C317.1,480.1 317.6,478.5 319.1,477.4C320.6,476.3 320.7,477.5 322.0,478.3C323.2,479.1 324.6,480.9 324.6,480.9C324.6,480.9 324.9,500.9 324.6,508.8C324.3,516.7 324.6,513.6 323.2,515.7C321.9,517.8 320.7,518.3 318.6,518.2C316.5,518.1 315.7,517.5 313.8,515.1C312.0,512.6 311.6,511.1 310.5,507.5C309.3,504.0 309.9,501.0 308.8,499.4C307.8,497.8 307.5,499.9 305.9,500.5C304.4,501.1 304.0,502.9 302.2,501.9C300.4,500.9 299.0,500.0 298.0,496.3C297.0,492.5 297.0,487.8 297.8,485.4Z"/>
<path fill="#20B2AA" d="M317.9,484.1C319.3,483.8 319.7,485.8 320.7,488.5C321.8,491.2 322.0,493.4 322.6,496.0C323.2,498.6 323.2,497.7 323.4,500.0C323.5,502.4 323.6,503.4 323.2,506.3C322.9,509.1 323.0,510.6 322.0,512.6C320.9,514.5 320.2,515.1 318.6,515.1C317.0,515.1 316.6,514.5 315.1,512.6C313.6,510.6 313.0,509.1 312.0,506.3C311.0,503.4 310.7,502.1 310.7,500.0C310.7,498.0 311.1,499.6 312.0,497.2C312.8,494.9 313.1,492.7 314.5,489.7C315.8,486.7 316.4,484.4 317.9,484.1Z"/>
<path fill="#B0E0E6" d="M317.9,493.5C317.9,493.5 319.3,497.0 320.1,498.5C321.0,500.0 321.5,498.2 321.6,500.0C321.8,501.8 321.4,503.9 320.7,506.3C320.1,508.6 318.9,510.3 318.9,510.3C318.9,510.3 317.4,508.6 316.3,506.3C315.3,503.9 314.2,501.6 314.1,500.0C313.9,498.4 314.9,500.6 315.7,499.1C316.6,497.6 317.9,493.5 317.9,493.5Z"/>
<path fill="#DEB887" d="M330.8,475.3C330.8,475.3 332.6,479.2 334.2,482.2C335.7,485.2 336.2,486.0 337.7,488.5C339.2,490.9 339.1,491.1 340.8,492.8C342.5,494.6 343.6,495.6 345.2,496.0C346.8,496.4 346.8,494.3 347.7,494.7C348.6,495.2 349.3,496.3 349.2,497.9C349.1,499.4 348.3,500.9 347.1,501.6C345.9,502.3 345.4,501.4 343.9,501.0C342.5,500.7 341.7,498.8 340.8,500.0C339.9,501.2 340.7,503.7 340.2,506.3C339.6,508.9 339.5,509.2 338.3,511.3C337.1,513.4 336.6,514.4 334.9,515.7C333.2,517.0 332.6,517.8 330.8,516.9C329.0,516.1 328.2,515.2 327.0,511.9C325.8,508.7 325.7,507.0 325.4,502.5C325.0,498.0 324.9,496.6 325.4,492.2C325.8,487.9 326.2,487.3 327.4,483.4C328.6,479.6 330.8,475.3 330.8,475.3Z"/>
<path fill="#FFE100" d="M330.8,477.2C330.8,477.2 332.0,480.6 333.3,483.4C334.6,486.3 335.0,486.6 336.4,489.7C337.8,492.8 338.7,495.5 339.5,497.2C340.3,499.0 339.9,496.3 339.9,497.5C339.9,498.7 340.1,500.0 339.5,502.5C339.0,505.1 338.8,506.2 337.7,508.8C336.5,511.4 336.1,512.4 334.5,513.8C333.0,515.2 332.4,515.9 330.8,515.1C329.1,514.2 328.4,512.9 327.4,510.0C326.3,507.2 326.4,506.6 326.1,502.5C325.9,498.5 325.9,496.6 326.4,492.2C326.9,487.9 327.3,486.9 328.3,483.4C329.3,480.0 330.8,477.2 330.8,477.2Z"/>
<path fill="#FFA500" d="M332.0,493.2C332.0,493.2 333.8,495.7 334.5,497.2C335.2,498.8 335.3,498.2 335.2,500.0C335.0,501.8 334.7,503.0 333.9,505.0C333.1,507.1 331.6,509.0 331.6,509.0C331.6,509.0 330.5,508.3 329.9,506.3C329.3,504.2 329.0,501.8 328.9,500.0C328.8,498.2 328.8,500.0 329.5,498.5C330.2,496.9 332.0,493.2 332.0,493.2Z"/>
<path fill="#DEB887" d="M318.6,522.8C320.0,522.8 320.8,523.5 322.0,525.7C323.2,527.9 323.3,528.2 323.9,532.6C324.5,537.0 324.6,539.5 324.6,545.2C324.7,550.9 324.7,553.1 324.1,557.7C323.6,562.3 323.4,562.9 322.2,565.2C321.1,567.6 320.4,568.0 319.1,568.0C317.8,568.0 317.4,567.6 316.3,565.2C315.3,562.9 315.1,562.3 314.5,557.7C313.8,553.1 313.6,550.9 313.6,545.2C313.5,539.5 313.7,537.0 314.2,532.6C314.7,528.2 314.8,527.9 315.8,525.7C316.8,523.5 317.2,522.8 318.6,522.8Z"/>
<path fill="#FFE100" d="M318.9,525.7C319.9,525.9 320.4,526.4 321.4,528.9C322.3,531.3 322.5,532.4 323.0,536.4C323.5,540.4 323.6,541.9 323.5,546.4C323.4,551.0 323.3,552.7 322.7,556.4C322.2,560.1 321.9,560.7 321.1,562.7C320.3,564.7 320.0,565.4 319.1,565.2C318.2,565.1 317.8,564.4 317.0,562.1C316.1,559.8 316.0,559.0 315.5,555.2C315.0,551.3 314.8,549.7 314.8,545.2C314.8,540.6 315.0,539.0 315.5,535.1C316.0,531.3 316.2,530.4 317.0,528.2C317.7,526.1 317.9,525.6 318.9,525.7Z"/>
<path fill="#FFA500" d="M318.9,533.2C318.9,533.2 320.1,535.9 320.7,538.9C321.4,541.9 321.6,543.0 321.6,546.4C321.6,549.8 321.3,551.0 320.7,553.9C320.2,556.8 319.1,559.2 319.1,559.2C319.1,559.2 318.1,556.8 317.6,553.9C317.1,551.0 316.8,549.8 316.7,546.4C316.7,543.0 316.9,541.9 317.4,538.9C317.8,535.9 318.9,533.2 318.9,533.2Z"/>
<path fill="#FF4500" d="M319.1,542.9C319.1,542.9 320.2,545.2 320.2,547.0C320.2,548.9 319.1,551.2 319.1,551.2C319.1,551.2 318.1,548.9 318.1,547.0C318.1,545.2 319.1,542.9 319.1,542.9Z"/>
<path fill="#94BC32" d="M325.1,519.5C326.4,509.6 328.1,518.7 330.8,519.2C333.4,519.7 334.6,520.2 336.7,521.6C338.7,522.9 339.0,522.0 339.7,525.1C340.3,528.2 339.4,530.6 339.4,535.1C339.4,539.7 339.8,539.9 339.7,545.2C339.5,550.4 339.6,553.2 338.7,558.3C337.8,563.5 337.7,564.7 335.8,567.7C333.9,570.8 332.5,571.3 330.4,571.7C328.3,572.2 327.8,571.7 326.6,569.6C325.4,567.6 325.5,574.1 325.1,562.7C324.8,551.3 323.8,529.3 325.1,519.5Z"/>
<path fill="#BCEE68" d="M325.4,521.6C326.5,520.0 327.9,520.3 330.1,520.7C332.4,521.1 333.4,520.5 335.2,523.2C336.9,525.9 337.0,527.6 337.7,532.6C338.4,537.6 338.3,539.5 338.3,545.2C338.2,550.9 338.3,552.9 337.4,557.7C336.6,562.5 336.2,563.6 334.5,566.5C332.9,569.3 331.9,569.8 330.1,570.2C328.4,570.7 328.1,570.1 327.0,568.4C325.9,566.6 325.8,568.0 325.4,562.7C324.9,557.4 325.2,553.1 325.1,545.2C325.1,537.2 325.2,533.0 325.3,527.6C325.3,522.2 324.3,523.2 325.4,521.6Z"/>
<path fill="#20B2AA" d="M326.4,526.3C326.9,524.3 327.1,524.2 328.3,523.6C329.4,523.0 330.1,522.7 331.4,523.6C332.7,524.5 333.2,524.7 334.2,527.6C335.2,530.5 335.3,532.1 335.8,536.4C336.2,540.7 336.3,541.9 336.2,546.4C336.0,551.0 336.0,552.5 335.2,556.4C334.4,560.4 333.8,561.6 332.6,564.0C331.5,566.3 331.1,566.7 329.9,566.7C328.7,566.7 328.2,566.6 327.4,564.0C326.5,561.3 326.5,559.5 326.1,555.2C325.8,550.9 325.9,550.3 325.9,545.2C325.8,540.0 325.9,536.9 326.0,532.6C326.1,528.3 325.9,528.4 326.4,526.3Z"/>
<path fill="#B0E0E6" d="M329.5,532.0C329.5,532.0 331.1,533.4 332.0,536.4C333.0,539.4 333.6,541.2 333.7,545.2C333.7,549.1 333.2,550.7 332.4,553.9C331.6,557.1 330.1,559.2 330.1,559.2C330.1,559.2 328.9,557.1 328.3,553.9C327.6,550.7 327.5,548.9 327.4,545.2C327.3,541.5 327.4,540.6 327.9,537.6C328.4,534.6 329.5,532.0 329.5,532.0Z"/>
<path fill="#6495ED" d="M330.1,542.0C330.1,542.0 331.6,544.2 331.6,546.4C331.7,548.6 330.4,551.7 330.4,551.7C330.4,551.7 329.2,549.2 329.1,547.0C329.1,544.8 330.1,542.0 330.1,542.0Z"/>
<path fill="#DEB887" d="M303.8,570.2C304.2,568.8 304.7,568.4 305.3,569.0C305.9,569.6 306.4,570.9 306.3,572.7C306.3,574.6 305.7,576.6 305.1,577.1C304.4,577.7 303.8,576.8 303.6,575.3C303.3,573.7 303.4,571.7 303.8,570.2Z"/>
<path fill="#BCEE68" d="M300.7,427.6C301.6,425.9 302.1,427.1 305.1,426.8C308.1,426.4 310.1,426.2 313.8,426.1C317.5,426.1 319.3,426.3 321.4,426.5C323.4,426.7 323.0,427.0 323.0,427.0C323.0,427.0 323.0,438.2 322.9,447.1C322.7,455.9 322.7,460.3 322.4,465.9C322.0,471.4 322.1,469.8 321.4,471.5C320.6,473.2 320.4,473.4 319.1,473.4C317.8,473.4 317.6,473.0 315.7,471.5C313.8,470.1 312.8,469.6 310.7,467.1C308.6,464.7 308.0,464.0 306.3,460.9C304.6,457.7 304.3,457.1 303.2,453.3C302.1,449.6 302.0,448.8 301.6,444.6C301.1,440.3 301.2,438.4 301.1,434.5C300.9,430.7 299.8,429.4 300.7,427.6Z"/>
<path fill="#20B2AA" d="M302.6,431.4C303.3,429.4 303.1,429.2 305.7,428.3C308.3,427.3 310.4,427.3 313.8,427.3C317.3,427.3 318.8,427.2 320.7,428.3C322.7,429.4 321.9,427.8 322.4,432.0C322.8,436.3 322.7,439.7 322.6,447.1C322.6,454.5 322.5,459.4 322.1,464.6C321.7,469.9 321.5,468.6 320.7,470.3C320.0,472.0 320.0,472.2 318.9,472.2C317.7,472.2 317.4,471.7 315.7,470.3C314.0,468.9 313.3,468.3 311.3,465.9C309.3,463.5 308.5,462.6 306.9,459.6C305.4,456.6 305.3,456.1 304.4,452.7C303.6,449.3 303.6,448.1 303.2,444.6C302.8,441.0 302.7,440.0 302.6,437.0C302.4,434.1 301.8,433.4 302.6,431.4Z"/>
<path fill="#B0E0E6" d="M303.8,432.7C304.4,430.8 304.3,430.5 306.6,429.5C308.8,428.6 310.8,428.5 313.8,428.5C316.9,428.5 318.3,428.4 320.1,429.5C321.9,430.6 321.3,429.3 321.7,433.3C322.2,437.3 322.1,440.2 322.1,447.1C322.1,453.9 322.0,458.7 321.6,463.4C321.2,468.1 321.0,466.4 320.4,467.8C319.7,469.1 319.7,469.4 318.6,469.4C317.6,469.4 317.2,469.0 315.7,467.8C314.2,466.5 313.7,466.1 312.0,464.0C310.2,461.9 309.6,461.1 308.2,458.4C306.8,455.7 306.5,455.2 305.7,452.1C304.8,449.0 304.9,447.8 304.4,444.6C304.0,441.3 304.0,440.4 303.8,437.7C303.7,435.0 303.2,434.5 303.8,432.7Z"/>
<path fill="#6495ED" d="M304.8,433.9C305.4,432.2 305.3,431.7 307.3,430.8C309.4,429.8 311.1,429.8 313.8,429.8C316.6,429.8 317.8,429.7 319.5,430.8C321.1,431.9 320.6,430.8 321.1,434.5C321.6,438.2 321.6,441.1 321.6,447.1C321.6,453.1 321.5,456.7 321.1,460.9C320.7,465.0 320.6,464.1 319.9,465.3C319.1,466.5 318.9,466.3 317.9,466.1C316.8,466.0 316.4,465.7 315.1,464.6C313.8,463.6 313.4,463.3 312.0,461.5C310.5,459.7 310.0,459.1 308.8,456.9C307.6,454.6 307.5,454.3 306.7,451.5C305.9,448.7 305.9,447.6 305.4,444.6C305.0,441.6 305.0,440.7 304.8,438.3C304.7,435.9 304.2,435.6 304.8,433.9Z"/>
<path fill="#4169E1" d="M305.7,435.2C306.3,433.6 306.3,433.0 308.2,432.0C310.0,431.1 311.4,431.0 313.8,431.0C316.3,431.0 317.3,430.9 318.9,432.0C320.4,433.1 320.0,432.4 320.5,435.8C321.0,439.2 321.1,441.9 321.1,447.1C321.1,452.2 321.0,455.0 320.6,458.4C320.2,461.7 320.2,461.0 319.5,461.9C318.7,462.8 318.5,462.6 317.4,462.4C316.2,462.1 315.8,461.8 314.5,460.9C313.2,460.0 312.8,459.7 311.6,458.4C310.4,457.0 310.0,456.6 309.1,454.9C308.1,453.1 307.9,452.9 307.3,450.6C306.7,448.3 306.7,447.2 306.3,444.6C305.9,441.9 305.8,441.1 305.7,438.9C305.5,436.8 305.1,436.7 305.7,435.2Z"/>
<path fill="#0000CD" d="M306.6,436.4C307.1,435.1 307.2,434.4 308.8,433.5C310.5,432.7 311.7,432.5 313.8,432.5C316.0,432.5 316.9,432.5 318.2,433.5C319.6,434.6 319.3,434.0 319.9,437.0C320.4,440.1 320.6,442.7 320.6,447.1C320.7,451.5 320.5,453.7 320.1,456.5C319.7,459.3 319.7,458.7 318.9,459.4C318.1,460.1 317.7,459.9 316.6,459.6C315.5,459.3 315.1,459.0 313.8,458.1C312.6,457.3 312.2,457.0 311.1,455.9C309.9,454.7 309.6,454.6 308.8,453.1C308.0,451.6 308.0,451.4 307.6,449.3C307.1,447.3 307.2,446.2 306.9,443.9C306.7,441.7 306.7,441.3 306.6,439.6C306.5,437.8 306.1,437.8 306.6,436.4Z"/>
<path fill="#9370DB" d="M307.8,438.3C308.3,436.9 308.4,436.5 309.8,435.8C311.3,435.1 312.3,435.0 314.1,435.2C315.9,435.3 316.6,435.4 317.9,436.4C319.1,437.4 319.0,437.1 319.5,439.6C320.0,442.0 320.1,443.6 320.1,447.1C320.1,450.6 320.0,452.5 319.6,454.9C319.2,457.2 319.1,456.7 318.2,457.4C317.3,458.0 316.9,458.1 315.7,457.7C314.5,457.4 314.1,456.9 312.8,455.9C311.6,454.9 311.2,454.6 310.1,453.3C309.0,452.1 308.6,451.8 307.9,450.2C307.3,448.6 307.4,448.3 307.3,446.5C307.2,444.6 307.5,443.9 307.6,442.1C307.7,440.2 307.3,439.7 307.8,438.3Z"/>
<path fill="#DEB887" d="M325.1,422.0L348.3,422.0C348.3,422.0 349.5,429.0 350.0,433.3C350.4,437.6 350.4,437.0 350.5,440.8C350.5,444.7 350.8,445.9 350.2,450.2C349.6,454.5 349.2,456.0 347.7,459.6C346.2,463.2 345.8,463.4 343.7,466.1C341.5,468.9 340.7,469.7 338.3,471.8C335.8,473.9 335.2,474.2 332.9,475.3C330.6,476.4 330.0,477.0 328.3,476.5C326.6,476.1 326.1,477.3 325.4,473.4C324.7,469.6 325.2,471.3 325.1,459.6C325.1,447.9 325.1,422.0 325.1,422.0Z"/>
<path fill="#FFE100" d="M325.5,422.0L346.4,422.0C346.4,422.0 347.7,429.0 348.3,433.3C348.9,437.6 349.1,437.1 349.2,440.8C349.3,444.5 349.6,445.6 348.9,449.6C348.3,453.6 347.9,454.9 346.4,458.4C345.0,461.8 344.7,461.9 342.7,464.6C340.7,467.3 339.9,468.3 337.7,470.3C335.4,472.3 334.6,472.4 332.6,473.4C330.7,474.4 330.3,474.9 328.9,474.7C327.5,474.4 327.1,475.6 326.4,472.2C325.7,468.7 326.0,471.0 325.8,459.6C325.6,448.2 325.5,422.0 325.5,422.0Z"/>
<path fill="#FFA500" d="M326.4,429.5C328.9,423.9 333.7,428.5 337.7,428.5C341.7,428.6 341.8,428.4 343.9,429.8C346.1,431.1 346.2,431.7 347.1,434.5C347.9,437.3 347.7,438.6 347.7,442.1C347.7,445.5 347.8,446.2 347.1,449.6C346.4,453.0 346.0,454.1 344.6,457.1C343.1,460.1 342.7,460.5 340.8,462.8C338.9,465.0 338.4,465.4 336.4,467.1C334.4,468.9 333.7,469.7 332.0,470.3C330.3,470.8 330.0,470.6 328.9,469.6C327.7,468.7 327.6,469.6 327.0,465.9C326.4,462.2 326.5,461.6 326.4,453.3C326.2,445.1 323.8,435.2 326.4,429.5Z"/>
<path fill="#FF4500" d="M327.0,431.4C329.5,426.7 334.0,430.0 337.7,430.0C341.3,430.0 341.1,430.1 342.9,431.4C344.8,432.7 345.0,433.2 345.8,435.8C346.6,438.4 346.4,439.6 346.4,442.7C346.4,445.8 346.5,446.6 345.8,449.6C345.1,452.6 344.7,453.3 343.3,455.9C341.9,458.4 341.4,458.7 339.5,460.9C337.7,463.0 337.0,463.7 335.2,465.3C333.4,466.8 333.1,467.5 331.6,467.8C330.2,468.1 329.9,467.8 328.9,466.5C327.9,465.2 327.8,465.7 327.4,462.1C326.9,458.6 327.0,457.8 326.9,450.8C326.8,443.9 324.6,436.1 327.0,431.4Z"/>
<path fill="#B22222" d="M327.4,432.7C329.7,428.5 334.2,431.3 337.7,431.3C341.1,431.3 340.8,431.5 342.4,432.7C344.1,433.8 344.3,434.1 344.9,436.4C345.6,438.7 345.5,439.7 345.4,442.7C345.4,445.7 345.4,446.8 344.7,449.6C344.0,452.4 343.7,452.6 342.4,454.9C341.1,457.1 340.6,457.6 338.9,459.6C337.2,461.6 336.6,462.2 334.9,463.6C333.2,465.1 332.7,465.7 331.4,465.9C330.1,466.1 330.0,465.9 329.1,464.6C328.3,463.4 328.2,463.7 327.8,460.2C327.3,456.8 327.3,455.9 327.3,449.6C327.2,443.3 325.0,436.8 327.4,432.7Z"/>
<path fill="#FFB6C1" d="M327.6,433.9C328.2,430.2 327.9,433.0 330.1,432.7C332.4,432.3 335.0,432.0 337.7,432.3C340.3,432.6 340.3,432.8 341.7,433.9C343.1,435.0 343.3,435.1 343.9,437.0C344.6,439.0 344.6,440.0 344.6,442.7C344.6,445.4 344.6,446.4 343.9,449.0C343.3,451.5 343.0,451.8 341.7,454.0C340.4,456.1 339.9,456.5 338.3,458.4C336.7,460.3 336.1,461.0 334.5,462.4C333.0,463.8 332.5,464.5 331.4,464.6C330.3,464.8 330.3,464.4 329.5,463.1C328.8,461.8 328.6,462.2 328.1,459.0C327.7,455.8 327.7,454.7 327.6,449.0C327.5,443.3 327.1,437.6 327.6,433.9Z"/>
<path fill="#FF1493" d="M328.1,436.0C328.8,432.7 328.5,434.7 330.6,434.2C332.8,433.6 335.3,433.3 337.7,433.5C340.0,433.8 339.8,434.2 340.9,435.2C342.1,436.2 342.1,436.2 342.7,437.9C343.3,439.6 343.4,440.3 343.4,442.7C343.4,445.1 343.3,446.2 342.7,448.6C342.1,451.0 341.8,451.3 340.7,453.2C339.5,455.2 339.0,455.5 337.5,457.2C336.0,459.0 335.3,459.6 334.0,460.9C332.7,462.1 332.7,462.7 331.8,462.8C330.9,462.8 330.8,462.4 330.1,461.2C329.5,460.1 329.4,460.5 328.9,457.7C328.4,454.9 328.1,453.9 327.9,449.0C327.7,444.0 327.5,439.4 328.1,436.0Z"/>
<path fill="#94BC32" d="M285.0,565.5C285.0,565.5 285.5,572.8 285.9,580.5C286.3,588.2 286.3,592.2 286.7,599.3C287.2,606.5 287.4,607.0 287.7,611.9C288.1,616.7 290.1,617.2 288.4,620.7C286.7,624.1 283.8,624.7 280.2,626.9C276.7,629.2 275.3,628.7 272.7,630.7C270.1,632.7 270.6,633.9 268.9,635.7C267.2,637.5 265.2,638.5 265.2,638.5L325.1,644.5L325.1,566.7L313.6,566.7C313.6,566.7 312.6,569.9 312.0,573.0C311.3,576.2 311.4,576.8 310.7,580.5C310.0,584.2 310.1,586.8 308.8,589.3C307.5,591.9 306.6,592.4 305.1,591.8C303.5,591.3 303.2,590.5 301.9,586.8C300.6,583.1 299.8,580.1 299.4,575.5C299.0,571.0 300.0,566.7 300.0,566.7L285.0,565.5Z"/>
<path fill="#DEB887" d="M303.8,570.5C304.4,569.1 305.6,568.1 306.3,569.3C307.0,570.4 307.2,573.1 306.9,575.5C306.7,577.9 305.8,579.9 305.1,579.9C304.3,579.9 303.8,577.7 303.6,575.5C303.3,573.4 303.2,571.9 303.8,570.5Z"/>
<path fill="#BCEE68" d="M263.9,636.7C263.9,636.7 267.2,635.8 268.9,634.5C270.7,633.1 270.0,632.1 271.5,630.7C272.9,629.3 273.2,629.3 275.2,628.2C277.2,627.0 278.0,627.1 280.2,625.7C282.5,624.3 283.4,623.9 285.3,621.9C287.1,619.9 287.6,620.6 288.4,616.9C289.2,613.2 287.8,610.5 288.8,605.6C289.7,600.8 290.8,599.1 292.5,595.6C294.2,592.0 294.3,590.8 296.3,589.9C298.3,589.1 299.3,590.7 301.3,591.8C303.3,593.0 303.1,594.0 305.1,595.0C307.1,596.0 308.2,596.6 310.1,596.2C311.9,595.8 312.2,596.1 313.2,593.1C314.2,590.1 313.6,586.6 314.5,583.0C315.3,579.5 315.7,579.1 317.0,577.4C318.3,575.7 318.3,575.7 320.1,575.5C321.9,575.3 324.7,576.5 324.7,576.5L324.7,644.5L263.9,644.5L263.9,636.7Z"/>
<path fill="#20B2AA" d="M264.9,638.2C264.9,638.2 268.2,637.1 270.0,635.7C271.7,634.3 271.0,633.6 272.5,632.2C273.9,630.8 274.2,630.8 276.2,629.7C278.2,628.6 279.2,629.0 281.2,627.2C283.2,625.4 283.3,624.5 285.0,621.9C286.7,619.3 287.1,618.8 288.8,615.6C290.5,612.5 290.8,611.5 292.5,608.1C294.2,604.7 295.0,602.9 296.3,600.6C297.6,598.3 298.2,598.1 298.2,598.1C298.2,598.1 299.7,600.1 301.3,601.9C302.9,603.6 303.1,605.0 305.1,605.6C307.1,606.2 308.1,605.2 310.1,604.4C312.1,603.5 312.7,604.4 313.8,601.9C315.0,599.3 314.5,597.1 315.1,593.1C315.7,589.1 315.5,587.3 316.3,584.3C317.2,581.3 317.7,580.8 318.9,579.9C320.0,579.1 320.4,579.3 321.4,580.5C322.4,581.8 322.5,579.9 323.2,585.6C324.0,591.3 324.5,605.6 324.5,605.6L324.5,644.5L264.9,644.5L264.9,638.2Z"/>
<path fill="#B0E0E6" d="M266.2,639.2C266.2,639.2 269.5,638.3 271.2,637.0C272.9,635.7 272.3,634.8 273.7,633.5C275.1,632.1 275.6,632.0 277.5,630.9C279.3,629.9 280.2,629.6 281.9,628.8C283.6,628.0 283.4,629.1 285.0,627.6C286.6,626.0 287.1,624.6 288.8,621.9C290.5,619.2 290.5,618.1 292.5,615.6C294.5,613.2 295.0,612.4 297.5,611.3C300.1,610.1 301.0,610.8 303.8,610.6C306.7,610.5 307.7,611.2 310.1,610.6C312.5,610.1 313.0,610.7 314.5,608.1C315.9,605.6 315.6,603.3 316.3,599.3C317.1,595.4 317.1,593.7 317.9,590.6C318.6,587.4 318.7,586.4 319.5,585.6C320.3,584.7 320.7,585.1 321.4,586.8C322.1,588.5 322.0,586.0 322.6,593.1C323.3,600.2 324.2,618.2 324.2,618.2L324.2,644.5L266.2,644.5L266.2,639.2Z"/>
<path fill="#6495ED" d="M267.4,640.1C267.4,640.1 270.8,639.3 272.5,638.0C274.2,636.7 273.5,635.8 275.0,634.5C276.4,633.1 277.0,632.9 278.7,631.9C280.4,631.0 281.1,630.8 282.5,630.2C283.9,629.6 283.4,630.8 285.0,629.4C286.6,628.1 287.4,627.0 289.4,624.4C291.4,621.9 291.6,620.6 293.8,618.2C295.9,615.7 296.5,614.8 298.8,613.8C301.1,612.8 301.2,613.9 303.8,613.8C306.4,613.6 307.5,613.9 310.1,613.1C312.6,612.4 313.5,613.2 315.1,610.6C316.7,608.1 316.2,605.8 317.0,601.9C317.8,597.9 317.9,596.1 318.6,593.1C319.3,590.1 319.2,589.4 319.9,588.7C320.5,588.0 320.8,588.1 321.4,589.9C321.9,591.8 321.8,590.4 322.4,596.8C322.9,603.3 323.7,618.2 323.7,618.2L324.0,644.5L267.4,644.5L267.4,640.1Z"/>
<path fill="#4169E1" d="M269.3,641.0C269.3,641.0 272.1,640.0 273.7,638.8C275.3,637.6 274.8,637.0 276.2,635.7C277.6,634.4 278.0,634.2 280.0,633.2C282.0,632.2 282.7,632.7 285.0,631.3C287.3,629.9 287.7,629.2 290.0,626.9C292.3,624.7 292.8,623.4 295.0,621.3C297.3,619.2 297.8,618.4 300.0,617.5C302.3,616.7 302.8,617.8 305.1,617.5C307.3,617.2 307.8,617.1 310.1,616.3C312.4,615.4 313.4,616.2 315.1,613.8C316.7,611.3 316.5,609.5 317.4,605.6C318.2,601.8 318.2,599.7 318.9,596.8C319.5,594.0 319.5,593.5 320.1,593.1C320.7,592.7 320.9,593.0 321.4,595.0C321.8,597.0 321.7,596.3 322.1,601.9C322.6,607.4 323.4,619.4 323.4,619.4L323.7,644.5L269.3,644.5L269.3,641.0Z"/>
<path fill="#0000CD" d="M270.0,642.2C270.0,642.2 274.9,640.3 277.5,639.0C280.0,637.6 279.5,637.5 281.2,636.3C282.9,635.2 283.0,635.3 285.0,633.8C287.0,632.4 287.7,631.6 290.0,630.1C292.3,628.5 292.9,628.8 295.0,626.9C297.2,625.1 297.7,623.5 299.4,621.9C301.1,620.4 301.1,620.3 302.6,620.0C304.0,619.8 305.1,619.5 305.7,620.7C306.3,621.8 305.8,623.3 305.1,625.1C304.4,626.8 302.8,626.6 302.6,628.2C302.3,629.8 304.1,630.2 303.8,631.9C303.5,633.7 302.7,632.9 301.3,635.7C299.9,638.6 297.5,644.5 297.5,644.5L272.5,644.5L270.0,642.2Z"/>
<path fill="#0000CD" d="M313.8,615.6C314.4,613.6 316.3,612.2 317.6,609.4C318.9,606.5 319.5,603.1 319.5,603.1C319.5,603.1 320.2,602.8 320.7,605.6C321.3,608.5 322.0,612.7 321.9,615.6C321.8,618.6 321.9,617.8 320.4,618.4C318.8,619.0 316.6,619.0 315.1,618.4C313.6,617.8 313.3,617.7 313.8,615.6Z"/>
<path fill="#9370DB" d="M270.6,644.5C270.6,644.5 269.7,643.4 271.8,642.5C274.0,641.6 277.0,641.7 280.0,640.5C283.0,639.3 283.0,638.6 285.0,637.2C287.0,635.8 286.8,635.4 288.8,634.2C290.8,633.0 291.5,632.7 293.8,631.9C296.1,631.2 296.8,630.8 298.8,630.7C300.8,630.6 301.4,630.8 302.6,631.3C303.7,631.9 304.4,632.1 303.8,633.2C303.2,634.3 301.6,633.8 300.0,636.3C298.5,638.9 296.9,644.5 296.9,644.5L270.6,644.5Z"/>
<path fill="#9370DB" d="M318.9,611.3L321.6,617.2L316.3,617.2L318.9,611.3Z"/>
<path fill="#6495ED" d="M301.5,644.5C301.5,644.5 301.0,643.0 302.0,640.5C303.0,637.9 303.8,636.7 306.0,633.3C308.2,629.8 308.9,628.1 311.6,625.2C314.4,622.4 315.1,622.0 318.0,620.7C321.0,619.5 324.6,619.8 324.6,619.8L324.6,644.5L301.5,644.5Z"/>
<path fill="#B0E0E6" d="M301.9,644.5C301.9,644.5 301.3,643.1 302.3,640.5C303.4,638.0 304.1,636.8 306.3,633.4C308.5,630.0 309.1,628.3 311.8,625.5C314.5,622.7 315.2,622.3 318.1,621.1C321.1,619.9 324.6,620.2 324.6,620.2L324.6,644.5L301.9,644.5Z"/>
<path fill="#20B2AA" d="M302.2,644.5C302.2,644.5 301.7,643.1 302.7,640.6C303.7,638.1 304.5,637.0 306.6,633.6C308.7,630.2 309.4,628.6 312.0,625.8C314.7,623.1 315.4,622.7 318.2,621.5C321.1,620.3 324.6,620.5 324.6,620.5L324.6,644.5L302.2,644.5Z"/>
<path fill="#BCEE68" d="M302.6,644.5C302.6,644.5 302.1,643.1 303.1,640.7C304.0,638.2 304.8,637.1 306.9,633.8C309.0,630.5 309.6,628.8 312.2,626.1C314.8,623.4 315.5,623.0 318.4,621.8C321.2,620.7 324.6,620.9 324.6,620.9L324.6,644.5L302.6,644.5Z"/>
<path fill="#F5E6BE" d="M303.0,644.5C303.0,644.5 302.5,643.1 303.5,640.7C304.4,638.4 305.2,637.2 307.2,634.0C309.3,630.8 309.9,629.2 312.5,626.5C315.0,623.9 315.7,623.5 318.5,622.3C321.2,621.2 324.6,621.4 324.6,621.4L324.6,644.5L303.0,644.5Z"/>
<path fill="#FFE100" d="M303.5,644.5C303.5,644.5 303.0,643.2 303.9,640.8C304.9,638.5 305.6,637.4 307.6,634.2C309.6,631.1 310.2,629.5 312.7,626.9C315.2,624.3 315.9,623.9 318.6,622.8C321.3,621.6 324.6,621.9 324.6,621.9L324.6,644.5L303.5,644.5Z"/>
<path fill="#FFA500" d="M304.0,644.5C304.0,644.5 303.6,643.2 304.5,640.9C305.4,638.6 306.1,637.6 308.0,634.5C310.0,631.4 310.6,629.9 313.0,627.3C315.5,624.8 316.1,624.4 318.8,623.3C321.4,622.2 324.6,622.5 324.6,622.5L324.6,644.5L304.0,644.5Z"/>
<path fill="#FF4500" d="M304.6,644.5C304.6,644.5 304.1,643.2 305.0,641.0C305.9,638.8 306.6,637.8 308.5,634.7C310.4,631.7 311.0,630.3 313.3,627.8C315.7,625.3 316.4,625.0 318.9,623.9C321.5,622.8 324.6,623.1 324.6,623.1L324.6,644.5L304.6,644.5Z"/>
<path fill="#B22222" d="M305.1,644.5C305.1,644.5 304.7,643.3 305.5,641.1C306.4,638.9 307.1,637.9 308.9,635.0C310.8,632.1 311.3,630.6 313.7,628.2C316.0,625.8 316.6,625.5 319.1,624.4C321.6,623.4 324.6,623.6 324.6,623.6L324.6,644.5L305.1,644.5Z"/>
<path fill="#FFB6C1" d="M305.8,644.5C305.8,644.5 305.3,643.3 306.1,641.2C307.0,639.1 307.6,638.1 309.4,635.3C311.2,632.5 311.8,631.1 314.0,628.8C316.2,626.4 316.8,626.1 319.3,625.1C321.7,624.1 324.6,624.3 324.6,624.3L324.6,644.5L305.8,644.5Z"/>
<path fill="#FF1493" d="M306.6,644.5C306.6,644.5 306.1,643.3 306.9,641.4C307.7,639.4 308.4,638.4 310.1,635.7C311.8,633.0 312.3,631.7 314.5,629.4C316.6,627.2 317.2,626.9 319.5,625.9C321.8,625.0 324.6,625.2 324.6,625.2L324.6,644.5L306.6,644.5Z"/>
<path fill="#DEB887" d="M325.4,580.5C325.4,580.5 326.4,579.2 327.6,578.7C328.9,578.1 329.5,577.3 330.8,578.0C332.1,578.7 332.3,579.5 333.3,581.8C334.3,584.1 334.2,584.4 335.2,588.1C336.2,591.8 336.2,595.2 337.7,598.1C339.1,600.9 339.4,600.3 341.4,600.6C343.4,600.9 344.4,601.3 346.4,599.3C348.4,597.4 348.6,594.2 350.2,591.8C351.8,589.4 353.3,588.7 353.3,588.7C353.3,588.7 355.6,588.1 357.1,590.6C358.6,593.0 359.0,595.4 360.0,599.3C361.0,603.3 360.7,604.3 361.5,608.1C362.3,612.0 362.2,613.3 363.4,616.3C364.5,619.3 364.9,619.4 366.5,621.3C368.1,623.1 368.3,623.1 370.3,624.4C372.2,625.7 373.1,625.7 375.0,626.9C377.0,628.2 377.2,627.8 378.8,630.1C380.4,632.3 382.2,636.7 382.2,636.7L382.2,644.5L325.4,644.5L325.4,580.5Z"/>
<path fill="#FFE100" d="M325.5,586.8C325.5,586.8 326.5,584.2 327.6,583.0C328.7,581.9 330.4,581.8 330.4,581.8C330.4,581.8 331.8,583.0 332.6,585.6C333.5,588.1 333.4,589.1 334.2,593.1C334.9,597.1 334.7,600.3 335.8,603.1C336.9,606.0 337.1,605.0 338.9,605.6C340.8,606.2 341.9,606.5 343.9,605.6C345.9,604.8 346.1,603.6 347.7,601.9C349.3,600.1 350.8,598.1 350.8,598.1C350.8,598.1 351.9,598.3 353.3,600.6C354.8,602.9 355.6,605.0 357.1,608.1C358.6,611.3 358.8,611.5 360.0,614.4C361.2,617.2 361.1,618.1 362.5,620.7C363.9,623.2 364.0,623.7 366.3,625.7C368.5,627.7 370.0,628.2 372.5,629.4C375.1,630.7 375.3,630.0 377.5,631.3C379.8,632.6 380.5,633.9 382.6,635.1C384.6,636.3 386.7,636.7 386.7,636.7L386.7,644.5L325.5,644.5L325.5,586.8Z"/>
<path fill="#FFA500" d="M325.6,593.1C325.6,593.1 327.2,590.6 328.3,590.6C329.3,590.6 329.5,590.8 330.4,593.1C331.2,595.4 331.2,597.2 332.0,600.6C332.8,604.0 332.3,605.8 333.9,608.1C335.5,610.4 336.4,610.1 338.9,610.6C341.5,611.2 342.6,610.5 345.2,610.6C347.8,610.8 348.2,610.4 350.2,611.3C352.2,612.1 352.3,612.3 354.0,614.4C355.7,616.5 356.4,618.4 357.7,620.7C359.1,622.9 358.6,622.7 360.0,624.4C361.4,626.1 361.8,626.6 363.7,628.2C365.7,629.8 366.2,630.2 368.8,631.3C371.3,632.5 372.2,632.1 375.0,633.2C377.9,634.3 378.7,635.2 381.3,636.3C384.0,637.5 386.7,638.2 386.7,638.2L386.7,644.5L325.6,644.5L325.6,593.1Z"/>
<path fill="#FF4500" d="M325.8,596.8C325.8,596.8 327.6,594.7 328.6,595.0C329.6,595.2 329.5,595.7 330.1,598.1C330.8,600.5 330.6,602.6 331.4,605.6C332.2,608.6 331.9,609.6 333.7,611.3C335.4,613.0 336.3,612.7 338.9,613.1C341.5,613.6 342.6,612.9 345.2,613.1C347.8,613.4 348.3,613.1 350.2,614.1C352.1,615.1 352.1,615.5 353.7,617.5C355.3,619.6 355.7,620.8 357.1,623.2C358.5,625.6 358.2,626.3 360.0,628.2C361.8,630.0 362.4,630.0 365.0,631.3C367.6,632.6 368.1,632.7 371.3,633.8C374.4,635.0 375.3,635.1 378.8,636.3C382.3,637.6 386.7,639.2 386.7,639.2L386.7,644.5L325.8,644.5L325.8,596.8Z"/>
<path fill="#B22222" d="M325.9,610.0C325.9,610.0 327.7,607.1 328.6,607.1C329.6,607.1 329.5,608.7 330.1,610.0C330.8,611.3 330.8,611.7 331.6,612.9C332.5,614.1 332.2,614.5 333.9,615.4C335.6,616.3 336.5,616.6 338.9,616.9C341.3,617.2 342.3,616.6 344.6,616.9C346.8,617.2 347.2,617.0 348.9,618.2C350.7,619.3 350.8,619.9 352.1,621.9C353.4,623.9 353.3,624.9 354.6,626.9C355.9,628.9 356.2,629.3 357.7,630.7C359.3,632.1 359.5,632.2 361.5,633.2C363.5,634.2 363.9,634.3 366.5,635.1C369.1,635.9 369.6,635.9 372.8,636.7C375.9,637.6 377.1,638.0 380.3,638.8C383.5,639.7 386.7,640.5 386.7,640.5L386.7,644.5L325.9,644.5L325.9,610.0Z"/>
<path fill="#FFB6C1" d="M328.6,616.5L330.4,611.3L332.6,616.5L328.6,616.5Z"/>
<path fill="#FFB6C1" d="M346.4,621.9C347.2,621.1 348.1,620.4 348.9,621.3C349.8,622.1 349.8,623.5 350.2,625.7C350.6,627.8 349.7,629.0 350.8,630.7C352.0,632.4 353.1,632.2 355.2,633.2C357.3,634.2 357.5,634.4 360.0,635.1C362.5,635.8 363.4,635.8 366.3,636.3C369.1,636.9 369.4,636.9 372.5,637.6C375.7,638.2 377.1,638.4 380.0,639.2C383.0,640.1 385.3,641.4 385.3,641.4L385.3,644.5L347.7,644.5C347.7,644.5 347.6,635.1 347.1,630.7C346.6,626.3 345.6,627.0 345.4,625.1C345.3,623.1 345.6,622.8 346.4,621.9Z"/>
<path fill="#FF1493" d="M347.7,633.8C348.0,632.7 349.5,632.9 351.5,633.2C353.5,633.5 354.2,634.2 356.5,635.1C358.8,635.9 359.2,636.3 361.5,637.0C363.8,637.6 363.9,637.4 366.5,637.8C369.1,638.3 369.6,638.4 372.8,639.0C375.9,639.5 377.9,639.0 380.3,640.2C382.7,641.5 383.4,644.5 383.4,644.5L352.7,644.5C352.7,644.5 351.3,640.6 350.2,638.2C349.1,635.8 347.4,635.0 347.7,633.8Z"/>
<path fill="#FFA500" d="M325.1,644.5L325.1,621.7C325.1,621.7 327.3,619.8 329.8,619.8C332.2,619.8 333.3,619.9 335.9,621.7C338.6,623.4 339.2,624.8 341.3,627.5C343.4,630.3 343.6,630.7 345.2,633.7C346.8,636.7 347.5,638.2 348.3,640.6C349.1,643.1 348.7,644.5 348.7,644.5L325.1,644.5Z"/>
<path fill="#FFE100" d="M325.1,644.5L325.1,622.0C325.1,622.0 327.3,620.2 329.7,620.2C332.1,620.2 333.2,620.3 335.7,622.0C338.3,623.8 339.0,625.1 341.1,627.8C343.1,630.5 343.3,630.9 344.8,633.9C346.4,636.8 347.1,638.3 347.9,640.7C348.7,643.1 348.3,644.5 348.3,644.5L325.1,644.5Z"/>
<path fill="#F5E6BE" d="M325.1,644.5L325.1,622.4C325.1,622.4 327.2,620.6 329.6,620.6C332.0,620.6 333.0,620.7 335.6,622.4C338.1,624.1 338.8,625.4 340.8,628.1C342.8,630.7 343.0,631.2 344.5,634.0C346.0,636.9 346.7,638.4 347.5,640.8C348.3,643.1 348.0,644.5 348.0,644.5L325.1,644.5Z"/>
<path fill="#BCEE68" d="M325.1,644.5L325.1,622.8C325.1,622.8 327.2,621.0 329.5,621.0C331.9,621.0 332.9,621.1 335.4,622.8C337.9,624.4 338.5,625.8 340.5,628.4C342.5,631.0 342.7,631.4 344.2,634.2C345.7,637.1 346.4,638.5 347.1,640.8C347.9,643.2 347.6,644.5 347.6,644.5L325.1,644.5Z"/>
<path fill="#20B2AA" d="M325.1,644.5L325.1,623.2C325.1,623.2 327.1,621.5 329.4,621.5C331.7,621.5 332.7,621.6 335.2,623.2C337.6,624.9 338.2,626.2 340.2,628.7C342.2,631.2 342.3,631.7 343.8,634.4C345.3,637.2 345.9,638.6 346.7,640.9C347.4,643.2 347.1,644.5 347.1,644.5L325.1,644.5Z"/>
<path fill="#B0E0E6" d="M325.1,644.5L325.1,623.7C325.1,623.7 327.1,622.0 329.3,622.0C331.6,622.0 332.6,622.1 335.0,623.7C337.3,625.3 338.0,626.6 339.9,629.0C341.8,631.5 341.9,631.9 343.4,634.7C344.8,637.4 345.5,638.7 346.2,641.0C346.9,643.2 346.6,644.5 346.6,644.5L325.1,644.5Z"/>
<path fill="#6495ED" d="M325.1,644.5L325.1,624.2C325.1,624.2 327.1,622.5 329.2,622.5C331.4,622.5 332.4,622.6 334.7,624.2C337.1,625.7 337.7,627.0 339.5,629.4C341.4,631.8 341.6,632.2 343.0,634.9C344.4,637.5 345.0,638.9 345.7,641.1C346.4,643.2 346.1,644.5 346.1,644.5L325.1,644.5Z"/>
<path fill="#4169E1" d="M325.1,644.5L325.1,624.7C325.1,624.7 327.0,623.1 329.1,623.1C331.3,623.1 332.2,623.2 334.5,624.7C336.7,626.2 337.3,627.4 339.1,629.8C341.0,632.2 341.1,632.6 342.5,635.1C343.9,637.7 344.5,639.0 345.2,641.2C345.9,643.3 345.6,644.5 345.6,644.5L325.1,644.5Z"/>
<path fill="#0000CD" d="M325.1,644.5L325.1,625.3C325.1,625.3 327.0,623.7 329.0,623.7C331.1,623.7 332.0,623.8 334.2,625.3C336.4,626.8 337.0,627.9 338.8,630.2C340.5,632.5 340.7,632.9 342.0,635.4C343.3,637.9 343.9,639.2 344.6,641.2C345.3,643.3 345.0,644.5 345.0,644.5L325.1,644.5Z"/>
<path fill="#9370DB" d="M325.1,644.5L325.1,625.9C325.1,625.9 326.9,624.4 328.9,624.4C330.9,624.4 331.8,624.5 333.9,625.9C336.0,627.4 336.6,628.5 338.3,630.7C340.0,632.9 340.1,633.3 341.4,635.7C342.7,638.1 343.3,639.4 343.9,641.4C344.6,643.3 344.3,644.5 344.3,644.5L325.1,644.5Z"/>
<path fill="#BCEE68" d="M342.9,573.0C343.4,570.5 344.1,569.9 344.9,570.5C345.7,571.1 346.2,572.7 346.4,575.5C346.6,578.4 346.4,580.5 345.8,583.0C345.2,585.6 344.6,587.1 343.9,586.8C343.2,586.5 342.9,584.9 342.7,581.8C342.5,578.7 342.4,575.6 342.9,573.0Z"/>
<path fill="#20B2AA" d="M366.9,614.4C366.8,611.0 367.3,609.3 368.2,605.6C369.0,601.9 369.4,601.2 370.7,598.1C371.9,595.0 372.5,594.2 373.8,591.8C375.1,589.4 376.3,587.4 376.3,587.4C376.3,587.4 378.0,588.4 379.4,589.9C380.9,591.5 382.6,594.3 382.6,594.3L386.3,591.2C386.3,591.2 388.2,592.5 389.5,595.0C390.7,597.4 390.7,598.9 392.0,601.9C393.3,604.8 393.8,605.3 395.1,608.1C396.4,611.0 396.2,611.5 397.6,614.4C399.0,617.2 399.8,617.8 401.4,620.7C402.9,623.5 403.3,624.1 404.5,626.9C405.7,629.8 406.0,630.9 406.6,633.2C407.2,635.5 407.1,637.0 407.1,637.0L384.8,637.0C384.8,637.0 384.6,633.3 383.2,630.7C381.8,628.1 380.9,627.4 378.8,625.7C376.7,624.0 376.1,624.3 373.8,623.2C371.5,622.0 370.3,622.7 368.8,620.7C367.2,618.7 367.0,617.8 366.9,614.4Z"/>
<path fill="#B0E0E6" d="M373.2,616.3C373.2,615.1 373.8,614.5 375.7,613.8C377.5,613.1 378.8,613.1 381.3,613.1C383.9,613.2 385.0,613.4 387.0,614.1C389.0,614.9 390.0,615.2 390.1,616.3C390.2,617.3 389.6,618.0 387.6,618.8C385.6,619.6 384.0,619.6 381.3,619.7C378.6,619.7 377.5,619.9 375.7,619.2C373.8,618.4 373.2,617.5 373.2,616.3Z"/>
<path fill="#B0E0E6" d="M385.1,628.2C385.2,625.3 387.0,625.3 388.8,624.4C390.7,623.5 391.4,623.5 393.2,624.2C395.1,624.9 395.4,625.9 397.0,627.6C398.6,629.2 398.8,629.2 400.1,631.3C401.5,633.5 402.9,637.0 402.9,637.0L388.2,637.0C388.2,637.0 384.9,631.0 385.1,628.2Z"/>
<path fill="#94BC32" d="M427.5,616.3L428.3,574.3C428.3,574.3 429.0,583.5 429.6,593.1C430.2,602.6 431.0,616.3 431.0,616.3L427.5,616.3Z"/>
<path fill="#94BC32" d="M417.6,611.9L418.3,601.6L419.3,611.9L417.6,611.9Z"/>
<path fill="#94BC32" d="M432.5,637.0C432.5,637.0 432.2,625.8 432.7,621.9C433.3,618.1 434.1,616.6 435.0,620.0C435.8,623.5 436.5,637.0 436.5,637.0L432.5,637.0Z"/>
<path fill="#94BC32" d="M422.7,622.2C422.7,621.1 423.7,620.0 424.6,620.0C425.4,620.1 426.5,621.5 426.5,622.5C426.5,623.6 425.4,624.8 424.6,624.7C423.7,624.6 422.7,623.2 422.7,622.2Z"/>
<path fill="#DEB887" d="M415.8,628.2L418.9,625.1L422.1,628.2L418.9,633.2L415.8,628.2Z"/>
<path fill="#DEB887" d="M427.1,637.0C427.1,637.0 427.0,629.8 427.5,626.9C427.9,624.1 428.3,624.1 429.0,624.4C429.6,624.7 430.0,625.3 430.2,628.2C430.4,631.0 430.0,637.0 430.0,637.0L427.1,637.0Z"/>
<rect x="210" y="635.1" width="53.3" height="14" fill="#fff"/>
<rect x="386.7" y="635.1" width="53" height="14" fill="#fff"/>
<rect x="210" y="641.4" width="230" height="8" fill="#fff"/>
</g>
<rect x="214.3" y="425.3" width="221.2" height="221.8" fill="none" stroke="#000" stroke-width="1.3"/>
<path d="M224.2,425.3v-2.9M224.2,647.1v3.5M236.8,425.3v-2.9M236.8,647.1v3.5M249.4,425.3v-6.0M249.4,647.1v6.6M262.0,425.3v-2.9M262.0,647.1v3.5M274.5,425.3v-2.9M274.5,647.1v3.5M287.1,425.3v-6.0M287.1,647.1v6.6M299.7,425.3v-2.9M299.7,647.1v3.5M312.3,425.3v-2.9M312.3,647.1v3.5M324.9,425.3v-6.0M324.9,647.1v6.6M337.5,425.3v-2.9M337.5,647.1v3.5M350.1,425.3v-2.9M350.1,647.1v3.5M362.7,425.3v-6.0M362.7,647.1v6.6M375.3,425.3v-2.9M375.3,647.1v3.5M387.8,425.3v-2.9M387.8,647.1v3.5M400.4,425.3v-6.0M400.4,647.1v6.6M413.0,425.3v-2.9M413.0,647.1v3.5M425.6,425.3v-2.9M425.6,647.1v3.5M214.3,425.3h-6M214.3,437.6h-6M214.3,449.9h-6M214.3,462.3h-6M214.3,474.6h-6M214.3,499.2h-6M214.3,523.9h-6M214.3,573.2h-6M214.3,610.1h-6M214.3,647.1h-6M435.5,426.4h6M435.5,448.8h6M435.5,488.7h6M435.5,552.2h6" stroke="#000" stroke-width="1.1" fill="none"/>
<text x="186.9" y="428.7" font-size="9.6" text-anchor="start" textLength="15.9" lengthAdjust="spacingAndGlyphs">100</text>
<text x="186.9" y="441.0" font-size="9.6" text-anchor="start" textLength="15.9" lengthAdjust="spacingAndGlyphs">150</text>
<text x="186.9" y="453.3" font-size="9.6" text-anchor="start" textLength="15.9" lengthAdjust="spacingAndGlyphs">200</text>
<text x="186.9" y="465.7" font-size="9.6" text-anchor="start" textLength="15.9" lengthAdjust="spacingAndGlyphs">250</text>
<text x="186.9" y="478.0" font-size="9.6" text-anchor="start" textLength="15.9" lengthAdjust="spacingAndGlyphs">300</text>
<text x="186.9" y="502.6" font-size="9.6" text-anchor="start" textLength="15.9" lengthAdjust="spacingAndGlyphs">400</text>
<text x="186.9" y="527.3" font-size="9.6" text-anchor="start" textLength="15.9" lengthAdjust="spacingAndGlyphs">500</text>
<text x="186.9" y="576.6" font-size="9.6" text-anchor="start" textLength="15.9" lengthAdjust="spacingAndGlyphs">700</text>
<text x="186.9" y="613.5" font-size="9.6" text-anchor="start" textLength="15.9" lengthAdjust="spacingAndGlyphs">850</text>
<text x="181.6" y="650.5" font-size="9.6" text-anchor="start" textLength="21.2" lengthAdjust="spacingAndGlyphs">1000</text>
<text x="446.5" y="429.8" font-size="9.6" text-anchor="start" textLength="10.6" lengthAdjust="spacingAndGlyphs">16</text>
<text x="446.5" y="452.2" font-size="9.6" text-anchor="start" textLength="10.6" lengthAdjust="spacingAndGlyphs">12</text>
<text x="446.5" y="492.1" font-size="9.6" text-anchor="start" textLength="5.3" lengthAdjust="spacingAndGlyphs">8</text>
<text x="446.5" y="555.6" font-size="9.6" text-anchor="start" textLength="5.3" lengthAdjust="spacingAndGlyphs">4</text>
<text x="240.7" y="664.8" font-size="9.4" text-anchor="start" textLength="17.2" lengthAdjust="spacingAndGlyphs">60N</text>
<text x="278.5" y="664.8" font-size="9.4" text-anchor="start" textLength="17.2" lengthAdjust="spacingAndGlyphs">30N</text>
<text x="322.0" y="664.8" font-size="9.4" text-anchor="start" textLength="5.8" lengthAdjust="spacingAndGlyphs">0</text>
<text x="354.0" y="664.8" font-size="9.4" text-anchor="start" textLength="17.2" lengthAdjust="spacingAndGlyphs">30S</text>
<text x="391.8" y="664.8" font-size="9.4" text-anchor="start" textLength="17.2" lengthAdjust="spacingAndGlyphs">60S</text>
<text x="172.8" y="536.2" font-size="12.5" text-anchor="middle" transform="rotate(-90 172.8 536.2)" textLength="99.0" lengthAdjust="spacingAndGlyphs">Pressure (mb)</text>
<text x="474.0" y="536.2" font-size="12.5" text-anchor="middle" transform="rotate(-90 474.0 536.2)" textLength="81.0" lengthAdjust="spacingAndGlyphs">Height (km)</text>
<text y="395.6" font-size="12.5"><tspan x="221.2" textLength="108.3" lengthAdjust="spacingAndGlyphs">symmetric_land</tspan> <tspan x="338.0" textLength="9.0" lengthAdjust="spacingAndGlyphs">−</tspan> <tspan x="355.6" textLength="71.7" lengthAdjust="spacingAndGlyphs">aquaplanet</tspan></text>
<text y="415.7" font-size="12.3"><tspan x="214.1" textLength="60" lengthAdjust="spacingAndGlyphs">Meridional</tspan> <tspan x="282.6" textLength="28.8" lengthAdjust="spacingAndGlyphs">heat</tspan> <tspan x="316.5" textLength="50.6" lengthAdjust="spacingAndGlyphs">transport</tspan></text>
<text y="415.7" font-size="12.3"><tspan x="349.6" textLength="7.5" lengthAdjust="spacingAndGlyphs">K</tspan> <tspan x="362.1" textLength="29" lengthAdjust="spacingAndGlyphs">m/s</tspan> <tspan x="398.5" textLength="7.5" lengthAdjust="spacingAndGlyphs">x</tspan> <tspan x="414.7" textLength="21" lengthAdjust="spacingAndGlyphs">100</tspan></text>
<text x="464.0" y="448.4" font-size="11.2" text-anchor="start" textLength="17.6" lengthAdjust="spacingAndGlyphs">MIN</text>
<text x="489.2" y="448.4" font-size="11.2" text-anchor="start" textLength="7.3" lengthAdjust="spacingAndGlyphs">=</text>
<text x="510.7" y="448.4" font-size="11.2" text-anchor="start" textLength="31.5" lengthAdjust="spacingAndGlyphs">−9.44</text>
<text x="554.4" y="448.4" font-size="11.2" text-anchor="start" textLength="21.2" lengthAdjust="spacingAndGlyphs">MAX</text>
<text x="580.9" y="448.4" font-size="11.2" text-anchor="start" textLength="8.1" lengthAdjust="spacingAndGlyphs">=</text>
<text x="607.0" y="448.4" font-size="11.2" text-anchor="start" textLength="24.0" lengthAdjust="spacingAndGlyphs">8.44</text>
<rect x="520.2" y="466.20" width="29.5" height="11.15" fill="#FF1493" stroke="#000" stroke-width="0.7"/>
<rect x="520.2" y="477.35" width="29.5" height="11.15" fill="#FFB6C1" stroke="#000" stroke-width="0.7"/>
<rect x="520.2" y="488.50" width="29.5" height="11.15" fill="#B22222" stroke="#000" stroke-width="0.7"/>
<rect x="520.2" y="499.65" width="29.5" height="11.15" fill="#FF4500" stroke="#000" stroke-width="0.7"/>
<rect x="520.2" y="510.80" width="29.5" height="11.15" fill="#FFA500" stroke="#000" stroke-width="0.7"/>
<rect x="520.2" y="521.95" width="29.5" height="11.15" fill="#FFE100" stroke="#000" stroke-width="0.7"/>
<rect x="520.2" y="533.10" width="29.5" height="11.15" fill="#DEB887" stroke="#000" stroke-width="0.7"/>
<rect x="520.2" y="544.25" width="29.5" height="11.15" fill="#F5E6BE" stroke="#000" stroke-width="0.7"/>
<rect x="520.2" y="555.40" width="29.5" height="11.15" fill="#94BC32" stroke="#000" stroke-width="0.7"/>
<rect x="520.2" y="566.55" width="29.5" height="11.15" fill="#BCEE68" stroke="#000" stroke-width="0.7"/>
<rect x="520.2" y="577.70" width="29.5" height="11.15" fill="#20B2AA" stroke="#000" stroke-width="0.7"/>
<rect x="520.2" y="588.85" width="29.5" height="11.15" fill="#B0E0E6" stroke="#000" stroke-width="0.7"/>
<rect x="520.2" y="600.00" width="29.5" height="11.15" fill="#6495ED" stroke="#000" stroke-width="0.7"/>
<rect x="520.2" y="611.15" width="29.5" height="11.15" fill="#4169E1" stroke="#000" stroke-width="0.7"/>
<rect x="520.2" y="622.30" width="29.5" height="11.15" fill="#0000CD" stroke="#000" stroke-width="0.7"/>
<rect x="520.2" y="633.45" width="29.5" height="11.15" fill="#9370DB" stroke="#000" stroke-width="0.7"/>
<text x="557.2" y="480.9" font-size="10.2" text-anchor="start" textLength="16.5" lengthAdjust="spacingAndGlyphs">2.4</text>
<text x="562.7" y="492.1" font-size="10.2" text-anchor="start" textLength="5.5" lengthAdjust="spacingAndGlyphs">2</text>
<text x="557.2" y="503.2" font-size="10.2" text-anchor="start" textLength="16.5" lengthAdjust="spacingAndGlyphs">1.6</text>
<text x="557.2" y="514.4" font-size="10.2" text-anchor="start" textLength="16.5" lengthAdjust="spacingAndGlyphs">1.2</text>
<text x="557.2" y="525.6" font-size="10.2" text-anchor="start" textLength="16.5" lengthAdjust="spacingAndGlyphs">0.8</text>
<text x="557.2" y="536.7" font-size="10.2" text-anchor="start" textLength="16.5" lengthAdjust="spacingAndGlyphs">0.4</text>
<text x="557.2" y="547.9" font-size="10.2" text-anchor="start" textLength="16.5" lengthAdjust="spacingAndGlyphs">0.2</text>
<text x="562.7" y="559.0" font-size="10.2" text-anchor="start" textLength="5.5" lengthAdjust="spacingAndGlyphs">0</text>
<text x="554.4" y="570.1" font-size="10.2" text-anchor="start" textLength="22.0" lengthAdjust="spacingAndGlyphs">−0.2</text>
<text x="554.4" y="581.3" font-size="10.2" text-anchor="start" textLength="22.0" lengthAdjust="spacingAndGlyphs">−0.4</text>
<text x="554.4" y="592.5" font-size="10.2" text-anchor="start" textLength="22.0" lengthAdjust="spacingAndGlyphs">−0.8</text>
<text x="554.4" y="603.6" font-size="10.2" text-anchor="start" textLength="22.0" lengthAdjust="spacingAndGlyphs">−1.2</text>
<text x="554.4" y="614.8" font-size="10.2" text-anchor="start" textLength="22.0" lengthAdjust="spacingAndGlyphs">−1.6</text>
<text x="559.9" y="625.9" font-size="10.2" text-anchor="start" textLength="11.0" lengthAdjust="spacingAndGlyphs">−2</text>
<text x="554.4" y="637.1" font-size="10.2" text-anchor="start" textLength="22.0" lengthAdjust="spacingAndGlyphs">−2.4</text>
<text x="300.3" y="14.4" font-size="20.0" text-anchor="start" textLength="38.4" lengthAdjust="spacingAndGlyphs">ANN</text>
</svg></body></html>
